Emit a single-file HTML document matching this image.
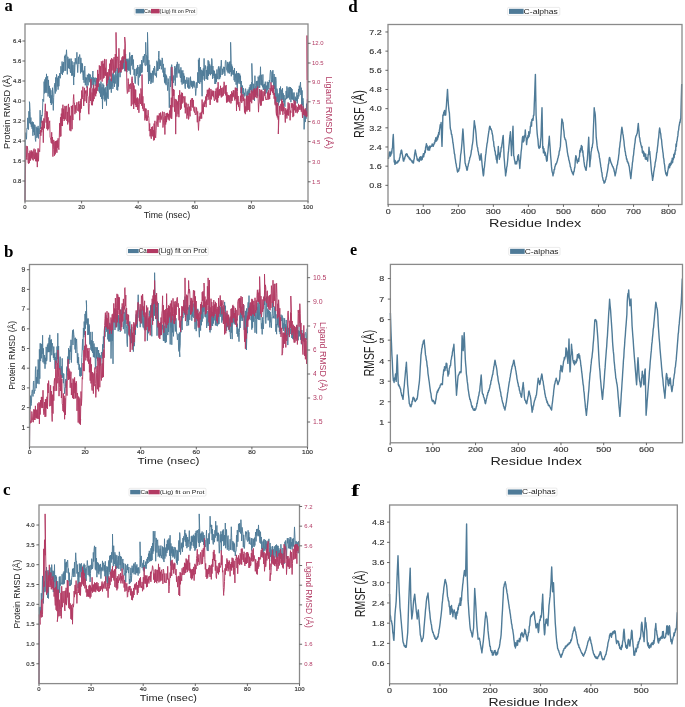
<!DOCTYPE html>
<html><head><meta charset="utf-8"><style>
html,body{margin:0;padding:0;background:#fff;width:685px;height:707px;overflow:hidden}
svg{display:block;filter:blur(0.3px)}
</style></head><body>
<svg width="685" height="707" viewBox="0 0 685 707">
<rect width="685" height="707" fill="#fff"/>
<polyline points="25.00,201.00 25.30,139.49 25.70,132.65 26.10,135.20 26.50,139.25 26.90,128.50 27.30,128.92 27.70,117.85 28.10,127.18 28.50,129.52 28.90,111.21 29.30,123.21 29.70,103.46 29.40,101.70 30.10,111.43 30.50,124.24 30.90,117.57 31.30,126.78 31.70,122.21 32.10,128.75 32.50,121.65 32.90,135.75 33.30,122.20 33.70,132.14 34.10,124.47 34.50,135.15 34.90,124.88 35.30,139.19 35.70,141.46 36.10,126.74 36.50,129.04 36.90,137.98 37.30,127.63 37.70,136.55 38.10,125.90 38.50,138.39 38.90,128.32 39.30,134.03 39.70,132.35 40.10,110.18 40.50,128.83 40.90,117.34 41.30,122.66 41.70,115.08 42.10,116.13 42.50,110.07 42.90,98.98 43.30,101.13 43.70,101.57 44.10,81.60 44.50,93.33 44.90,79.38 45.30,92.74 45.70,77.46 46.10,91.69 46.50,73.86 46.90,93.07 47.30,78.37 47.70,76.27 48.10,96.45 48.50,79.93 48.90,93.78 49.30,85.86 49.70,97.89 50.10,88.41 50.50,103.00 50.90,90.28 51.30,104.97 51.70,95.25 52.10,103.41 52.50,87.76 52.90,99.78 53.30,110.40 53.70,97.26 54.10,90.90 54.50,84.50 54.90,83.18 55.30,93.55 55.70,77.43 56.10,91.41 56.50,74.34 56.90,76.44 57.30,86.54 57.70,77.72 58.10,89.67 58.50,75.93 58.90,86.25 59.30,78.48 59.70,73.20 60.10,78.37 60.50,76.87 60.90,66.22 61.30,73.76 61.70,72.26 62.10,61.54 62.50,75.01 62.90,63.70 63.30,72.40 63.70,61.96 64.10,70.92 64.50,56.30 64.90,57.95 65.30,54.72 65.70,70.82 66.10,56.56 66.50,49.79 66.90,57.61 67.30,74.34 67.70,56.71 68.10,57.84 68.50,68.08 68.90,59.14 69.30,69.00 69.70,58.65 70.10,70.33 70.50,72.82 70.90,58.62 71.30,58.74 71.70,75.69 72.10,61.27 72.50,75.46 72.90,65.14 73.30,72.33 73.70,85.02 74.10,62.24 74.50,76.75 74.90,67.29 75.30,58.19 75.70,63.14 76.10,64.26 76.50,63.55 76.90,52.29 77.30,64.18 77.70,72.61 78.10,64.84 78.50,56.84 78.90,63.95 79.30,57.17 79.70,54.51 80.10,58.94 80.50,73.37 80.90,57.89 81.30,71.92 81.70,62.94 82.10,72.40 82.50,63.61 82.90,75.26 83.30,80.01 83.70,70.64 84.10,82.72 84.50,67.27 84.90,66.12 85.30,85.27 85.70,77.23 86.10,79.84 86.50,77.70 86.90,87.62 87.30,74.78 87.70,76.64 88.10,85.36 88.50,73.66 88.90,80.21 89.30,73.87 89.70,82.23 90.10,75.38 90.50,74.63 90.90,84.32 91.30,87.67 91.70,77.39 92.10,85.15 92.50,77.56 92.90,71.01 93.30,91.76 93.70,77.05 94.10,81.82 94.50,78.30 94.90,84.35 95.30,85.75 95.70,77.66 96.10,78.95 96.50,78.08 96.90,87.28 97.30,78.52 97.70,86.89 98.10,86.94 98.50,79.41 98.90,91.42 99.30,83.56 99.70,93.22 100.10,83.80 100.50,96.78 100.90,81.50 101.30,84.58 101.70,99.04 102.10,87.28 102.50,108.99 102.90,83.59 103.30,95.38 103.70,84.91 104.10,99.34 104.50,88.55 104.90,101.42 105.30,87.31 105.70,99.96 106.10,92.49 106.50,105.57 106.90,83.32 107.30,97.57 107.70,83.65 108.10,99.03 108.50,78.63 108.90,77.02 109.30,76.21 109.70,89.54 110.10,78.60 110.50,88.97 110.90,79.37 111.30,92.69 111.70,78.30 112.10,86.34 112.50,73.61 112.90,88.93 113.30,72.48 113.70,83.13 114.10,76.46 114.50,86.91 114.90,74.58 115.30,83.57 115.70,59.83 116.10,73.87 116.50,75.18 116.90,89.88 117.30,67.97 117.70,90.46 118.10,70.87 118.50,86.54 118.90,73.38 119.30,67.69 119.70,70.02 120.10,77.20 120.50,66.26 120.90,72.85 121.30,60.32 121.70,69.00 122.10,60.86 122.50,59.79 122.90,66.95 123.30,57.15 123.70,68.74 124.10,57.70 124.50,70.67 124.90,71.27 125.30,55.64 125.70,54.09 126.10,70.44 126.50,58.86 126.90,72.14 127.30,59.33 127.70,69.86 128.10,58.63 128.50,70.45 128.90,60.20 129.30,70.66 129.70,52.45 130.10,73.46 130.50,74.55 130.90,56.44 131.30,65.65 131.70,55.06 132.10,64.31 132.50,54.98 132.90,69.46 133.30,59.50 133.70,67.53 134.10,75.16 134.50,69.14 134.90,82.27 135.30,83.62 135.70,76.76 136.10,68.98 136.50,75.99 136.90,67.79 137.30,74.09 137.70,65.06 138.10,83.82 138.50,85.41 138.90,67.02 139.30,77.39 139.70,67.08 140.10,64.47 140.50,75.97 140.90,64.61 141.30,72.82 141.70,60.07 142.10,72.38 142.50,66.81 142.90,59.00 143.30,56.14 143.70,62.57 144.10,56.55 144.50,54.09 144.90,65.35 145.30,65.51 145.70,65.85 145.70,42.30 146.10,55.62 146.50,55.19 146.90,65.21 147.30,56.51 147.70,72.01 147.50,32.40 148.10,58.48 148.50,83.86 148.90,60.11 149.30,81.09 149.70,64.74 150.10,79.27 150.50,72.86 150.90,83.91 151.30,73.16 151.70,82.39 152.10,75.85 152.50,70.74 152.90,82.65 153.30,79.88 153.70,68.18 154.10,74.89 154.50,66.04 154.90,68.42 155.30,75.76 155.70,74.12 156.10,72.99 156.50,77.36 156.90,60.78 157.30,70.91 157.70,62.26 158.10,70.50 158.50,57.65 158.90,51.02 159.30,69.03 159.70,59.47 160.10,60.54 160.50,65.84 160.90,60.33 161.30,69.35 161.70,67.15 162.10,57.87 162.50,59.02 162.90,72.55 163.30,63.92 163.70,77.06 164.10,70.74 164.50,82.59 164.90,67.77 165.30,83.68 165.70,74.19 166.10,85.13 166.50,75.61 166.90,77.96 167.30,84.36 167.70,90.67 168.10,78.54 168.50,81.60 168.90,90.15 169.30,107.71 169.70,92.18 170.10,76.16 170.50,86.98 170.90,68.13 171.30,66.67 171.70,80.55 171.70,64.60 172.10,72.48 172.50,91.22 172.90,76.97 173.30,82.99 173.70,75.52 174.10,80.41 174.50,68.55 174.90,66.02 175.30,85.64 175.70,67.71 176.10,74.42 176.50,64.54 176.90,77.59 177.30,61.88 177.70,65.86 178.10,73.28 178.50,72.67 178.90,63.83 179.30,73.31 179.70,69.70 180.10,76.53 180.50,77.89 180.90,67.34 181.30,82.26 181.70,70.45 182.10,84.58 182.50,72.81 182.90,70.36 183.30,83.62 183.70,73.36 184.10,83.25 184.50,75.86 184.90,86.70 185.30,88.72 185.70,79.83 186.10,83.75 186.50,82.60 186.90,77.28 187.30,81.01 187.70,87.47 188.10,79.89 188.50,88.56 188.90,77.63 189.30,84.82 189.70,88.63 190.10,87.70 190.50,76.69 190.90,85.44 191.30,80.83 191.70,86.81 192.10,80.97 192.50,88.42 192.90,81.65 193.30,86.13 193.70,80.84 194.10,87.47 194.50,81.52 194.90,83.27 195.30,88.65 195.70,95.57 196.10,90.00 196.50,82.45 196.90,88.05 197.30,86.05 197.70,72.38 198.10,82.13 198.50,82.94 198.40,59.70 198.90,70.85 199.30,57.90 199.70,83.93 200.10,80.31 200.50,67.08 200.90,82.08 201.30,69.80 201.70,80.68 202.10,96.22 202.50,70.61 202.90,79.63 203.30,68.43 203.70,76.00 204.10,58.43 204.50,80.67 204.90,69.08 205.30,65.45 205.70,69.51 206.10,79.13 206.50,70.04 206.90,79.11 207.30,66.37 207.70,79.82 208.10,60.25 208.50,75.87 208.90,61.43 209.30,74.21 209.70,63.89 210.10,72.02 210.50,75.22 210.90,65.58 211.30,74.05 211.70,58.50 212.10,61.16 212.50,78.86 212.90,66.00 213.30,75.73 213.70,70.17 214.10,78.25 214.50,70.91 214.90,83.96 215.30,73.95 215.70,83.85 216.10,73.63 216.50,81.94 216.90,69.52 217.30,79.07 217.70,75.16 218.10,69.35 218.50,66.42 218.90,79.33 219.30,68.52 219.70,79.00 220.10,66.43 220.50,77.24 220.90,67.38 221.30,60.11 221.70,67.87 222.10,74.97 222.50,68.83 222.90,73.96 223.30,68.70 223.70,66.79 224.10,72.44 224.50,66.98 224.90,75.78 225.30,61.89 225.70,60.36 226.10,61.58 226.50,69.68 226.90,69.36 227.30,71.61 227.70,61.92 228.10,73.23 228.50,63.68 228.90,72.31 229.30,62.04 229.70,73.60 230.10,61.18 230.50,71.94 230.90,65.29 230.60,42.30 231.30,76.25 231.70,64.50 232.10,74.46 232.50,66.58 232.90,72.45 233.30,74.90 233.70,70.12 234.10,80.24 234.50,68.00 234.90,81.83 235.30,78.77 235.70,73.70 236.10,84.74 236.50,71.06 236.90,82.90 237.30,90.89 237.70,73.18 238.10,82.26 238.50,72.95 238.90,83.56 239.30,81.00 239.70,73.57 240.10,84.05 240.50,75.68 240.90,93.19 241.30,81.06 241.70,93.41 242.10,96.89 242.50,85.57 242.90,93.23 243.30,88.11 243.70,95.66 244.10,96.57 244.50,92.79 244.90,95.67 245.30,88.73 245.70,88.75 246.10,94.37 246.50,99.02 246.90,92.51 247.30,91.28 247.70,96.24 248.10,89.44 248.50,94.82 248.90,91.73 249.30,87.37 249.70,94.63 250.10,84.81 250.50,90.02 250.90,84.20 251.30,91.84 251.70,82.11 252.10,92.81 251.80,63.40 252.50,82.67 252.90,88.07 253.30,92.33 253.70,83.80 254.10,92.95 254.50,100.96 254.90,75.70 255.30,85.46 255.70,94.21 256.10,86.28 256.50,81.21 256.90,95.11 257.30,80.84 257.70,96.30 258.10,76.70 258.50,79.12 258.90,87.84 259.30,75.51 259.70,87.73 260.10,80.05 260.50,66.75 260.90,84.76 261.30,74.75 261.70,85.38 262.10,80.24 262.50,87.31 262.90,74.43 263.30,89.93 263.70,84.59 264.10,89.29 264.50,83.88 264.90,90.96 265.30,81.69 265.70,93.98 266.10,92.10 266.50,85.57 266.90,92.78 267.30,81.75 267.70,90.21 268.10,87.44 268.50,82.22 268.90,89.25 269.30,80.04 269.70,82.45 270.10,73.99 270.50,70.00 270.90,72.48 271.30,82.60 271.70,79.26 272.10,71.52 272.50,82.19 272.90,70.16 273.30,81.38 273.70,86.05 274.10,74.01 274.50,88.95 274.90,76.88 275.30,103.63 275.70,77.02 276.10,80.36 276.50,110.57 276.90,88.59 277.30,91.06 277.70,101.94 278.10,93.36 278.50,105.40 278.90,94.72 279.30,102.37 279.70,88.13 280.10,100.57 280.50,86.50 280.90,95.62 281.30,100.41 281.70,89.62 282.10,99.48 282.50,88.18 282.90,99.92 283.30,93.36 283.70,102.64 284.10,95.08 284.50,102.91 284.90,106.78 285.30,98.57 285.70,99.80 286.10,90.91 286.50,98.81 286.90,86.39 287.30,95.03 287.70,98.34 288.10,87.62 288.50,97.52 288.90,91.60 289.30,86.90 289.70,99.52 290.10,89.39 290.50,87.04 290.90,102.18 291.30,87.96 291.70,99.26 292.10,89.08 292.50,99.53 292.90,92.66 293.30,95.88 293.70,100.93 294.10,92.51 294.50,103.76 294.90,104.64 295.30,96.66 295.70,103.43 296.10,98.03 296.50,100.77 296.90,92.56 297.30,103.41 297.70,95.20 298.10,98.75 298.50,88.94 298.90,96.43 299.30,85.78 299.70,92.38 300.10,85.92 300.50,82.04 300.90,94.92 301.30,87.70 301.70,109.41 302.10,90.40 302.50,105.34 302.90,98.15 303.30,100.59 303.70,111.31 304.10,129.38 304.50,121.88 304.90,110.03 305.30,122.06 305.70,110.51 306.10,118.74 306.50,103.66 306.90,113.82 307.30,99.27" fill="none" stroke="#4f7b98" stroke-width="0.95" stroke-linejoin="round" opacity="1"/>
<polyline points="25.00,201.00 25.30,174.90 25.70,160.98 26.10,145.84 26.50,157.46 26.90,159.69 27.30,146.22 27.70,149.33 28.10,162.60 28.50,163.66 28.90,153.10 29.30,163.14 29.70,152.13 30.10,150.56 30.50,160.57 30.90,151.84 31.30,157.89 31.70,150.39 32.10,159.22 32.50,151.62 32.90,160.12 33.30,160.42 33.70,149.73 34.10,148.65 34.50,159.10 34.90,151.91 35.30,149.49 35.70,161.22 36.10,152.61 36.50,161.32 36.90,152.83 37.30,167.10 37.70,152.59 38.10,148.33 38.50,161.23 38.90,149.48 39.30,150.94 39.70,151.81 40.10,136.13 40.50,130.10 40.90,135.76 41.30,126.96 41.70,132.27 42.10,120.72 42.50,129.63 42.90,120.96 43.30,142.66 43.70,118.41 44.10,118.61 44.50,128.23 44.90,112.36 45.30,103.78 45.70,112.84 46.10,122.62 46.50,111.44 46.90,128.87 47.30,111.60 47.70,130.33 48.10,117.29 48.50,128.85 48.90,128.55 49.30,123.63 49.70,120.79 50.10,137.16 50.50,137.92 50.90,140.70 51.30,142.99 51.70,132.28 52.10,143.78 52.50,137.08 52.90,156.65 53.30,149.34 53.70,139.89 54.10,142.16 54.50,155.66 54.90,141.63 55.30,154.33 55.70,141.00 56.10,151.46 56.50,140.80 56.90,152.80 57.30,140.31 57.70,147.85 58.10,138.31 58.50,147.48 58.90,149.70 59.30,135.91 59.70,123.17 60.10,136.72 60.50,117.23 60.90,136.28 61.30,113.59 61.70,125.93 62.10,108.34 62.50,126.04 62.90,104.71 63.30,118.95 63.70,108.78 64.10,120.94 64.50,119.41 64.90,105.91 65.30,119.33 65.70,106.67 66.10,106.45 66.50,105.88 66.90,120.96 67.30,111.94 67.70,124.44 68.10,106.15 68.50,103.91 68.90,122.42 69.30,107.41 69.70,130.31 70.10,130.46 70.50,115.72 70.90,131.20 71.30,105.93 71.70,109.70 72.10,129.22 72.50,105.26 72.90,120.04 73.30,99.39 73.70,94.51 74.10,103.29 74.50,103.06 74.90,114.19 75.30,105.27 75.70,111.97 76.10,112.81 76.50,106.16 76.90,102.27 77.30,109.99 77.70,110.13 78.10,110.94 78.50,101.55 78.90,111.50 79.30,104.30 79.70,120.27 80.10,101.20 80.50,112.63 80.90,98.87 81.30,108.67 81.70,90.50 82.10,98.92 82.50,97.70 82.90,86.73 83.30,97.69 83.70,105.99 84.10,99.06 84.50,87.85 84.90,101.24 85.30,90.78 85.70,93.38 86.10,90.41 86.50,102.95 86.90,92.84 87.30,86.38 87.70,96.13 88.10,96.60 88.50,111.99 88.90,114.25 89.30,103.43 89.70,88.98 90.10,87.73 90.50,100.99 90.90,79.07 91.30,102.71 91.70,105.20 92.10,92.44 92.50,105.22 92.90,88.45 93.30,101.25 93.70,84.72 94.10,99.06 94.50,88.87 94.90,95.32 95.30,87.76 95.70,96.29 96.10,84.47 96.50,93.40 96.90,79.35 97.30,90.81 97.70,69.92 98.10,86.99 98.50,73.96 98.90,81.65 99.30,65.39 99.70,69.94 100.10,80.35 100.50,66.21 100.90,79.22 101.30,61.42 101.70,62.57 102.10,81.61 102.50,63.39 102.90,60.73 103.30,78.56 103.70,63.64 104.10,77.76 104.50,58.95 104.90,75.45 105.30,67.78 105.70,75.81 106.10,59.35 106.50,85.63 106.90,72.58 107.30,83.36 107.70,72.23 108.10,80.06 108.50,78.24 108.90,69.19 109.30,75.68 109.70,63.68 110.10,76.51 110.50,59.78 110.90,73.00 111.30,81.19 111.70,58.16 112.10,70.41 112.50,59.51 112.90,59.40 113.30,73.56 113.70,59.97 114.10,57.16 114.50,72.50 114.90,69.77 115.30,54.01 115.70,71.07 116.10,59.42 116.00,32.40 116.50,58.29 116.90,68.41 117.30,58.27 117.70,56.75 118.10,59.93 118.50,72.80 118.90,48.29 119.30,63.55 119.70,63.99 120.10,72.22 120.50,60.67 120.90,72.13 121.30,70.67 121.70,59.19 122.10,57.21 122.50,69.34 122.90,56.02 123.30,59.97 123.70,62.65 124.10,49.43 124.50,58.70 124.90,44.06 124.70,37.00 125.30,43.90 125.70,71.15 126.10,61.55 126.50,64.20 126.90,88.08 127.30,93.51 127.70,92.78 128.10,78.55 128.50,81.61 128.90,91.88 129.30,84.40 129.70,86.56 130.10,88.96 130.50,83.55 130.90,85.12 131.30,106.10 131.70,78.73 132.10,76.69 132.50,80.21 132.90,104.44 133.30,83.13 133.70,109.01 134.10,85.53 134.50,103.32 134.90,89.37 135.30,105.02 135.70,89.71 136.10,107.04 136.50,98.48 136.90,107.07 137.30,97.44 137.70,109.88 138.10,98.47 138.50,104.31 138.90,112.78 139.30,105.01 139.70,93.68 140.10,102.79 140.50,103.94 140.90,88.45 141.30,91.10 141.70,105.70 142.10,90.97 142.00,74.50 142.50,108.54 142.90,96.29 143.30,110.75 143.70,111.15 144.10,103.48 144.50,105.76 144.90,120.36 145.30,108.49 145.70,118.29 146.10,108.68 146.50,120.72 146.90,115.12 147.30,120.70 147.70,115.35 148.10,110.11 148.50,115.78 148.90,118.41 149.30,131.05 149.70,123.46 150.10,136.33 150.50,129.12 150.90,136.65 151.30,138.78 151.70,126.97 152.10,136.01 152.50,126.53 152.90,136.50 153.30,129.96 153.70,140.47 154.10,123.52 154.50,140.04 154.90,120.83 155.30,136.00 155.70,137.84 156.10,130.76 156.50,121.46 156.90,120.19 157.30,115.48 157.70,125.80 158.10,126.89 158.50,115.67 158.90,119.84 159.30,113.34 159.70,115.81 160.10,122.50 160.50,112.56 160.90,119.44 161.30,119.75 161.70,115.38 162.10,114.23 162.50,111.64 162.90,127.53 163.30,125.33 163.70,116.80 164.10,111.95 164.50,120.13 164.90,134.49 165.30,116.04 165.70,124.54 166.10,113.38 166.50,122.18 166.90,113.12 167.30,117.24 167.70,112.80 168.10,119.56 168.50,114.00 168.90,118.92 169.30,120.49 169.70,110.43 170.10,116.76 170.50,104.97 170.90,118.37 171.30,97.67 171.70,118.87 172.10,109.89 171.90,67.00 172.50,96.20 172.90,107.21 173.30,88.97 173.70,95.87 174.10,89.83 174.50,111.64 174.90,98.89 175.30,99.15 175.70,134.13 176.10,99.45 176.50,99.96 176.90,116.63 177.30,101.35 177.70,105.92 178.10,114.25 178.50,95.33 178.90,117.19 179.30,102.28 179.70,90.25 180.10,98.74 180.50,109.82 180.90,94.65 181.30,108.58 181.70,92.49 182.10,103.68 182.50,93.03 182.90,102.63 183.30,96.40 183.70,97.98 184.10,97.98 184.50,107.33 184.90,96.24 185.30,113.33 185.70,102.82 186.10,102.63 186.50,103.24 186.90,118.64 187.30,107.41 187.70,115.42 188.10,103.85 188.50,119.45 188.90,118.21 189.30,106.57 189.70,112.93 190.10,116.35 190.50,100.05 190.90,110.85 191.30,98.66 191.70,98.55 192.10,107.01 192.50,98.03 192.90,107.73 193.30,99.95 193.70,110.95 194.10,111.48 194.50,112.62 194.90,106.77 195.30,114.78 195.70,113.85 196.10,114.53 196.50,107.50 196.90,110.82 197.30,122.27 197.70,111.40 198.10,122.55 198.50,130.39 198.90,122.09 199.30,116.45 199.70,121.15 200.10,112.83 200.50,117.95 200.90,118.80 201.30,111.85 201.70,118.54 202.10,99.54 202.50,112.39 202.90,104.37 203.30,114.19 203.70,102.42 204.10,102.63 204.50,106.88 204.90,100.63 205.30,103.61 205.70,96.49 206.10,107.21 206.50,94.34 206.90,100.38 207.30,89.78 207.70,96.66 208.10,97.10 208.50,89.62 208.90,99.71 209.30,87.87 209.70,96.59 210.10,104.99 210.50,99.42 210.90,88.98 211.30,99.45 211.70,91.22 212.10,90.37 212.50,95.84 212.90,91.12 213.30,97.20 213.70,90.78 214.10,99.80 214.50,100.96 214.90,98.22 215.30,91.18 215.70,99.38 216.10,88.51 216.50,97.54 216.90,102.30 217.30,87.50 217.70,102.39 218.10,82.20 218.50,97.71 218.90,90.09 219.30,95.47 219.70,89.00 220.10,95.44 220.50,85.80 220.90,92.07 221.30,97.43 221.70,88.07 222.10,96.60 222.50,95.89 222.90,87.48 223.30,95.58 223.70,85.69 224.10,81.79 224.50,84.23 224.90,93.69 225.30,86.06 225.70,95.37 226.10,84.99 226.50,102.54 226.90,92.23 227.30,102.27 227.70,94.70 228.10,100.57 228.50,95.14 228.90,101.67 229.30,95.43 229.70,102.43 230.10,99.62 230.50,94.25 230.90,103.44 231.30,101.64 231.70,91.27 232.10,100.96 232.50,92.76 232.90,97.25 233.30,90.15 233.70,96.50 234.10,90.45 234.50,98.89 234.90,100.52 235.30,87.59 235.70,99.04 236.10,87.93 236.50,111.02 236.90,88.26 237.30,91.72 237.70,104.46 238.10,95.97 238.50,106.71 238.90,102.06 239.30,108.20 239.70,110.63 240.10,103.02 240.50,95.73 240.90,101.25 241.30,87.37 241.70,102.87 242.10,101.48 242.50,99.49 242.90,94.23 243.30,100.94 243.70,96.69 244.10,102.62 244.50,112.50 244.90,98.65 245.30,114.16 245.70,106.43 246.10,110.24 246.50,95.81 246.90,111.58 247.30,95.73 247.70,110.06 248.10,108.84 248.50,95.62 248.90,110.04 249.30,93.42 249.70,111.60 250.10,93.48 250.50,101.61 250.90,95.25 251.30,90.35 251.70,103.23 252.10,91.96 252.50,91.44 252.90,99.64 253.30,89.34 253.70,99.61 254.10,97.70 254.50,88.45 254.90,97.49 255.30,90.17 255.70,97.01 256.10,89.42 256.50,88.02 256.90,98.12 257.30,93.96 257.70,86.51 258.10,98.22 258.50,112.13 258.90,104.01 259.30,102.92 259.70,89.06 260.10,92.19 260.50,105.55 260.90,90.35 261.30,105.52 261.70,89.76 262.10,101.22 262.50,100.65 262.90,91.26 263.30,100.74 263.70,97.13 264.10,91.54 264.50,95.63 264.90,89.22 265.30,96.13 265.70,99.06 266.10,100.00 266.50,98.96 266.90,99.92 267.30,95.79 267.70,92.31 268.10,99.67 268.50,90.35 268.90,99.22 269.30,93.46 269.70,99.07 270.10,88.17 270.50,94.75 270.90,82.39 271.30,84.67 271.70,91.24 272.10,85.18 272.50,92.80 272.90,87.90 273.30,94.71 273.70,85.51 274.10,98.72 274.50,92.96 274.90,103.79 275.30,105.29 275.70,96.71 276.10,112.09 276.50,115.47 276.90,102.19 277.30,117.46 277.70,103.06 278.10,119.53 278.50,116.33 278.30,134.00 278.90,117.21 279.30,105.87 279.70,111.78 280.10,114.65 280.50,106.11 280.90,103.82 281.30,110.80 281.70,99.36 282.10,111.35 282.50,100.87 282.90,114.83 283.30,103.32 283.70,111.18 284.10,107.08 284.50,113.83 284.90,114.59 285.30,122.54 285.70,108.29 286.10,115.61 286.50,110.41 286.90,118.56 287.30,108.91 287.70,115.12 288.10,102.41 288.50,115.54 288.90,105.14 289.30,103.44 289.70,110.80 290.10,120.30 290.50,110.67 290.90,112.70 291.30,103.16 291.70,107.57 292.10,107.89 292.50,103.37 292.90,117.14 293.30,104.43 293.70,116.11 294.10,100.26 294.50,110.28 294.90,104.41 295.30,101.49 295.70,112.67 296.10,105.59 296.50,111.45 296.90,111.95 297.30,113.21 297.70,106.88 298.10,111.78 298.50,103.88 298.90,109.83 299.30,109.47 299.70,105.28 300.10,109.76 300.50,104.60 300.90,105.07 301.30,111.70 301.70,104.42 302.10,110.71 302.50,117.87 302.90,106.26 303.30,108.43 303.70,114.91 304.10,109.36 304.50,111.18 304.90,116.23 305.30,108.32 305.70,115.12 306.10,110.68 306.50,117.14 306.90,114.49 306.60,112.00 307.30,116.26 307.00,35.50 307.20,80.00" fill="none" stroke="#b23a63" stroke-width="0.95" stroke-linejoin="round" opacity="1"/>
<rect x="25" y="24" width="283" height="177" fill="none" stroke="#8a8a8a" stroke-width="1.3"/>
<line x1="22.4" y1="181" x2="25" y2="181" stroke="#555" stroke-width="0.9"/>
<text x="21.2" y="183.02" font-size="5.6" fill="#333" text-anchor="end" font-family="'Liberation Sans', sans-serif" textLength="8.29" lengthAdjust="spacingAndGlyphs" stroke="#333" stroke-width="0.15">0.8</text>
<line x1="22.4" y1="161" x2="25" y2="161" stroke="#555" stroke-width="0.9"/>
<text x="21.2" y="163.02" font-size="5.6" fill="#333" text-anchor="end" font-family="'Liberation Sans', sans-serif" textLength="8.29" lengthAdjust="spacingAndGlyphs" stroke="#333" stroke-width="0.15">1.6</text>
<line x1="22.4" y1="141" x2="25" y2="141" stroke="#555" stroke-width="0.9"/>
<text x="21.2" y="143.02" font-size="5.6" fill="#333" text-anchor="end" font-family="'Liberation Sans', sans-serif" textLength="8.29" lengthAdjust="spacingAndGlyphs" stroke="#333" stroke-width="0.15">2.4</text>
<line x1="22.4" y1="121" x2="25" y2="121" stroke="#555" stroke-width="0.9"/>
<text x="21.2" y="123.02" font-size="5.6" fill="#333" text-anchor="end" font-family="'Liberation Sans', sans-serif" textLength="8.29" lengthAdjust="spacingAndGlyphs" stroke="#333" stroke-width="0.15">3.2</text>
<line x1="22.4" y1="101" x2="25" y2="101" stroke="#555" stroke-width="0.9"/>
<text x="21.2" y="103.02" font-size="5.6" fill="#333" text-anchor="end" font-family="'Liberation Sans', sans-serif" textLength="8.29" lengthAdjust="spacingAndGlyphs" stroke="#333" stroke-width="0.15">4.0</text>
<line x1="22.4" y1="81" x2="25" y2="81" stroke="#555" stroke-width="0.9"/>
<text x="21.2" y="83.02" font-size="5.6" fill="#333" text-anchor="end" font-family="'Liberation Sans', sans-serif" textLength="8.29" lengthAdjust="spacingAndGlyphs" stroke="#333" stroke-width="0.15">4.8</text>
<line x1="22.4" y1="61" x2="25" y2="61" stroke="#555" stroke-width="0.9"/>
<text x="21.2" y="63.02" font-size="5.6" fill="#333" text-anchor="end" font-family="'Liberation Sans', sans-serif" textLength="8.29" lengthAdjust="spacingAndGlyphs" stroke="#333" stroke-width="0.15">5.6</text>
<line x1="22.4" y1="41" x2="25" y2="41" stroke="#555" stroke-width="0.9"/>
<text x="21.2" y="43.02" font-size="5.6" fill="#333" text-anchor="end" font-family="'Liberation Sans', sans-serif" textLength="8.29" lengthAdjust="spacingAndGlyphs" stroke="#333" stroke-width="0.15">6.4</text>
<line x1="308" y1="181.8" x2="310.6" y2="181.8" stroke="#555" stroke-width="0.9"/>
<text x="312" y="183.82" font-size="5.6" fill="#b23a63" text-anchor="start" font-family="'Liberation Sans', sans-serif" textLength="8.29" lengthAdjust="spacingAndGlyphs" >1.5</text>
<line x1="308" y1="161.8" x2="310.6" y2="161.8" stroke="#555" stroke-width="0.9"/>
<text x="312" y="163.82" font-size="5.6" fill="#b23a63" text-anchor="start" font-family="'Liberation Sans', sans-serif" textLength="8.29" lengthAdjust="spacingAndGlyphs" >3.0</text>
<line x1="308" y1="141.6" x2="310.6" y2="141.6" stroke="#555" stroke-width="0.9"/>
<text x="312" y="143.62" font-size="5.6" fill="#b23a63" text-anchor="start" font-family="'Liberation Sans', sans-serif" textLength="8.29" lengthAdjust="spacingAndGlyphs" >4.5</text>
<line x1="308" y1="121.6" x2="310.6" y2="121.6" stroke="#555" stroke-width="0.9"/>
<text x="312" y="123.62" font-size="5.6" fill="#b23a63" text-anchor="start" font-family="'Liberation Sans', sans-serif" textLength="8.29" lengthAdjust="spacingAndGlyphs" >6.0</text>
<line x1="308" y1="101.8" x2="310.6" y2="101.8" stroke="#555" stroke-width="0.9"/>
<text x="312" y="103.82" font-size="5.6" fill="#b23a63" text-anchor="start" font-family="'Liberation Sans', sans-serif" textLength="8.29" lengthAdjust="spacingAndGlyphs" >7.5</text>
<line x1="308" y1="81.8" x2="310.6" y2="81.8" stroke="#555" stroke-width="0.9"/>
<text x="312" y="83.82" font-size="5.6" fill="#b23a63" text-anchor="start" font-family="'Liberation Sans', sans-serif" textLength="8.29" lengthAdjust="spacingAndGlyphs" >9.0</text>
<line x1="308" y1="63" x2="310.6" y2="63" stroke="#555" stroke-width="0.9"/>
<text x="312" y="65.02" font-size="5.6" fill="#b23a63" text-anchor="start" font-family="'Liberation Sans', sans-serif" textLength="11.61" lengthAdjust="spacingAndGlyphs" >10.5</text>
<line x1="308" y1="43.3" x2="310.6" y2="43.3" stroke="#555" stroke-width="0.9"/>
<text x="312" y="45.32" font-size="5.6" fill="#b23a63" text-anchor="start" font-family="'Liberation Sans', sans-serif" textLength="11.61" lengthAdjust="spacingAndGlyphs" >12.0</text>
<line x1="25" y1="201" x2="25" y2="203.4" stroke="#555" stroke-width="0.9"/>
<text x="25" y="209" font-size="5.6" fill="#333" text-anchor="middle" font-family="'Liberation Sans', sans-serif" textLength="3.32" lengthAdjust="spacingAndGlyphs" stroke="#333" stroke-width="0.15">0</text>
<line x1="81.6" y1="201" x2="81.6" y2="203.4" stroke="#555" stroke-width="0.9"/>
<text x="81.6" y="209" font-size="5.6" fill="#333" text-anchor="middle" font-family="'Liberation Sans', sans-serif" textLength="6.63" lengthAdjust="spacingAndGlyphs" stroke="#333" stroke-width="0.15">20</text>
<line x1="138.2" y1="201" x2="138.2" y2="203.4" stroke="#555" stroke-width="0.9"/>
<text x="138.2" y="209" font-size="5.6" fill="#333" text-anchor="middle" font-family="'Liberation Sans', sans-serif" textLength="6.63" lengthAdjust="spacingAndGlyphs" stroke="#333" stroke-width="0.15">40</text>
<line x1="194.8" y1="201" x2="194.8" y2="203.4" stroke="#555" stroke-width="0.9"/>
<text x="194.8" y="209" font-size="5.6" fill="#333" text-anchor="middle" font-family="'Liberation Sans', sans-serif" textLength="6.63" lengthAdjust="spacingAndGlyphs" stroke="#333" stroke-width="0.15">60</text>
<line x1="251.4" y1="201" x2="251.4" y2="203.4" stroke="#555" stroke-width="0.9"/>
<text x="251.4" y="209" font-size="5.6" fill="#333" text-anchor="middle" font-family="'Liberation Sans', sans-serif" textLength="6.63" lengthAdjust="spacingAndGlyphs" stroke="#333" stroke-width="0.15">80</text>
<line x1="308" y1="201" x2="308" y2="203.4" stroke="#555" stroke-width="0.9"/>
<text x="308" y="209" font-size="5.6" fill="#333" text-anchor="middle" font-family="'Liberation Sans', sans-serif" textLength="9.95" lengthAdjust="spacingAndGlyphs" stroke="#333" stroke-width="0.15">100</text>
<text x="10.2" y="112" font-size="8.4" fill="#222" text-anchor="middle" font-family="'Liberation Sans', sans-serif" textLength="74" lengthAdjust="spacingAndGlyphs" transform="rotate(-90 10.2 112)" >Protein RMSD (Å)</text>
<text x="326.2" y="112.7" font-size="9.0" fill="#b23a63" text-anchor="middle" font-family="'Liberation Sans', sans-serif" textLength="72.6" lengthAdjust="spacingAndGlyphs" transform="rotate(90 326.2 112.7)" >Ligand RMSD (Å)</text>
<text x="143.7" y="218.2" font-size="8.8" fill="#222" text-anchor="start" font-family="'Liberation Sans', sans-serif" textLength="46.4" lengthAdjust="spacingAndGlyphs" >Time (nsec)</text>
<rect x="134.3" y="7.6" width="62.5" height="7.4" fill="#fff" stroke="#ddd" stroke-width="0.6" rx="1"/>
<rect x="135.6" y="8.9" width="8.7" height="4.5" fill="#4f7b98"/>
<rect x="151" y="8.9" width="8.6" height="4.5" fill="#b23a63"/>
<text x="144.3" y="13.2" font-size="5.2" fill="#222" text-anchor="start" font-family="'Liberation Sans', sans-serif" textLength="6.4" lengthAdjust="spacingAndGlyphs" >Ca</text>
<text x="159.6" y="13.2" font-size="5.2" fill="#222" text-anchor="start" font-family="'Liberation Sans', sans-serif" textLength="35.8" lengthAdjust="spacingAndGlyphs" >(Lig) fit on Prot</text>
<text x="4.6" y="10.6" font-size="16.5" fill="#000" text-anchor="start" font-family="'Liberation Serif', serif" font-weight="bold" >a</text>
<polyline points="29.50,447.00 29.80,396.47 30.20,408.90 30.60,395.64 31.00,405.67 31.40,403.60 31.80,393.38 32.20,389.89 32.60,390.15 33.00,396.45 33.40,382.51 33.80,380.98 34.20,393.68 34.60,390.26 35.00,390.92 35.40,370.06 35.80,366.56 36.20,388.20 36.60,377.15 37.00,383.91 37.40,369.67 37.80,383.07 38.20,359.49 38.60,372.23 39.00,384.16 39.40,349.35 39.80,378.73 40.20,343.26 40.60,361.08 41.00,343.80 41.40,358.30 41.80,344.15 42.20,353.90 42.60,335.25 43.00,362.28 43.40,348.32 43.80,359.26 44.20,363.70 44.60,355.11 45.00,368.70 45.40,357.74 45.80,364.22 46.20,346.87 46.60,361.17 47.00,359.51 47.40,344.65 47.80,352.25 48.20,343.20 48.60,352.04 49.00,337.66 49.40,352.10 49.80,334.86 50.20,361.82 50.60,339.87 51.00,351.31 51.40,339.42 51.80,355.22 52.20,343.04 52.60,345.70 53.00,349.90 53.40,357.94 53.80,346.57 54.20,359.99 54.60,353.41 55.00,368.85 55.40,357.16 55.80,364.96 56.20,352.71 56.60,363.14 57.00,346.51 57.40,359.07 57.80,333.21 58.20,362.99 58.60,346.02 59.00,362.67 59.40,369.39 59.80,364.35 60.20,356.73 60.60,375.45 61.00,373.90 61.40,366.34 61.80,377.98 62.20,358.35 62.60,377.49 63.00,373.13 63.40,383.17 63.80,373.81 64.20,386.64 64.60,393.74 65.00,388.59 65.40,388.12 65.80,379.09 66.20,386.20 66.60,367.88 67.00,366.48 67.40,371.26 67.80,356.54 68.20,363.94 68.60,348.16 69.00,363.87 69.40,349.83 69.80,359.89 70.20,345.82 70.60,351.63 71.00,339.80 71.40,362.50 71.80,347.16 72.20,337.16 72.60,330.30 73.00,345.00 73.40,329.54 73.80,334.45 74.20,337.64 74.60,338.05 75.00,349.38 75.40,337.73 75.80,352.99 76.20,343.70 76.60,338.92 77.00,349.31 77.40,362.90 77.80,353.32 78.20,364.73 78.60,357.18 79.00,369.78 79.40,364.51 79.80,376.16 80.20,367.63 80.60,376.47 81.00,367.83 81.40,375.76 81.80,357.33 82.20,349.30 82.60,339.24 83.00,350.16 83.40,327.92 83.80,337.25 84.20,321.54 84.60,334.81 85.00,313.92 85.40,328.70 85.80,311.20 86.20,323.20 86.60,305.71 86.30,300.50 87.00,324.67 87.40,318.70 87.80,335.03 88.20,318.49 88.60,334.61 89.00,324.39 89.40,325.68 89.80,344.41 90.20,331.92 90.60,346.57 91.00,349.85 91.40,340.27 91.80,351.18 92.20,331.86 92.60,352.96 93.00,341.04 93.40,357.13 93.80,343.72 94.20,343.60 94.60,357.50 95.00,346.95 95.40,368.39 95.80,368.37 96.20,347.21 96.60,358.43 97.00,349.34 97.40,347.31 97.80,360.81 98.20,358.93 98.60,350.00 99.00,365.58 99.40,353.37 99.80,363.41 100.20,355.22 100.60,365.53 101.00,362.87 101.40,352.21 101.80,353.70 102.20,358.43 102.60,344.33 103.00,355.77 103.40,336.43 103.80,347.97 104.20,330.96 104.60,326.74 105.00,336.79 105.40,330.30 105.80,314.95 106.20,316.23 106.60,331.68 107.00,324.86 107.40,327.52 107.80,339.43 108.20,326.65 108.60,341.36 109.00,328.32 109.40,341.46 109.80,322.88 110.20,341.46 110.60,326.82 111.00,358.53 111.40,342.04 111.80,319.75 112.20,340.89 112.60,328.93 113.00,363.87 113.40,320.61 113.80,322.28 114.20,315.35 114.60,315.52 115.00,329.97 115.40,308.94 115.80,327.46 116.20,314.22 116.60,326.50 117.00,326.68 117.40,311.00 117.80,318.58 118.20,331.28 118.60,315.14 119.00,317.66 119.40,329.79 119.80,317.82 120.20,331.85 120.60,324.00 121.00,310.02 121.40,324.94 121.80,308.23 122.20,307.12 122.60,306.56 123.00,318.88 123.40,329.11 123.80,321.52 124.20,312.21 124.60,325.06 125.00,333.56 125.40,324.09 125.80,309.57 126.20,324.29 126.60,328.89 127.00,343.18 127.40,346.72 127.80,320.93 128.20,333.43 128.60,333.50 129.00,322.45 129.40,336.42 129.80,321.45 130.20,329.50 130.60,343.79 131.00,328.98 131.40,342.85 131.80,326.80 132.20,342.76 132.60,346.23 133.00,335.15 133.40,351.61 133.80,335.43 134.20,346.20 134.60,342.67 135.00,325.89 135.40,334.71 135.80,318.06 136.20,314.33 136.60,326.43 137.00,312.43 137.40,327.79 137.80,305.18 138.20,294.74 138.60,306.21 139.00,317.75 139.40,310.17 139.80,310.06 140.20,327.19 140.60,310.58 141.00,320.23 141.40,309.49 141.80,323.32 142.20,305.42 142.60,323.95 143.00,327.45 143.40,327.54 143.80,309.88 144.20,328.95 144.60,330.23 145.00,316.80 145.40,329.29 145.80,316.60 146.20,323.83 146.60,314.44 147.00,317.98 147.40,340.68 147.80,326.82 148.20,318.67 148.60,333.28 149.00,330.86 149.40,313.27 149.80,310.64 150.20,327.56 150.60,305.30 151.00,324.15 151.40,324.69 151.80,336.30 152.20,303.10 152.60,319.05 153.00,301.52 153.40,320.99 153.80,291.65 154.20,300.28 154.60,315.75 154.60,272.70 155.00,300.82 155.40,312.60 155.80,302.17 156.20,318.67 156.60,307.13 157.00,335.68 157.40,309.95 157.80,327.57 158.20,303.00 158.60,335.54 159.00,336.67 159.40,337.01 159.80,326.88 160.20,335.44 160.60,325.50 161.00,321.82 161.40,334.69 161.80,327.34 162.20,329.41 162.60,324.57 163.00,333.92 163.40,340.89 163.80,322.59 164.20,341.04 164.60,325.82 165.00,342.00 165.40,342.96 165.80,319.34 166.20,342.16 166.60,334.19 167.00,314.72 167.40,312.84 167.80,335.09 168.20,311.16 168.60,331.91 169.00,307.01 169.40,311.21 169.80,325.99 170.20,344.41 170.60,312.41 171.00,327.54 171.40,317.11 171.80,344.76 172.20,313.95 172.60,332.40 173.00,318.67 173.40,336.40 173.80,330.83 174.20,321.33 174.60,309.48 175.00,321.71 175.40,331.52 175.80,318.07 176.20,319.12 176.60,333.66 177.00,333.28 177.40,339.75 177.80,337.17 178.20,333.86 178.60,349.04 179.00,351.53 179.40,332.50 179.80,356.89 179.50,351.30 180.20,345.12 180.60,325.34 181.00,332.35 181.40,319.02 181.80,326.47 182.20,329.87 182.60,312.34 183.00,318.12 183.40,308.14 183.80,305.02 184.20,310.71 184.60,314.60 185.00,296.57 185.40,317.01 185.80,305.24 186.20,308.64 186.60,311.43 187.00,326.05 187.40,314.29 187.80,321.70 188.20,307.29 188.60,325.36 189.00,312.48 189.40,305.20 189.80,319.87 190.20,305.93 190.60,300.86 191.00,307.68 191.40,306.77 191.80,320.75 192.20,308.39 192.60,316.50 193.00,303.83 193.40,317.70 193.80,316.90 194.20,302.70 194.60,313.69 195.00,329.20 195.40,317.10 195.80,309.41 196.20,331.15 196.60,318.73 197.00,310.53 197.40,320.19 197.80,308.83 198.20,325.73 198.60,320.09 199.00,332.13 199.40,337.21 199.80,317.81 200.20,319.36 200.60,330.59 201.00,313.79 201.40,325.25 201.80,305.44 202.20,321.66 202.60,305.28 203.00,318.51 203.40,304.45 203.80,311.70 204.20,309.38 204.60,300.52 205.00,316.73 205.40,305.25 205.80,317.28 206.20,309.70 206.60,327.97 207.00,324.70 207.40,323.67 207.80,310.87 208.20,325.94 208.60,314.75 209.00,305.63 209.40,312.02 209.80,332.17 210.20,332.53 210.60,321.03 211.00,330.07 211.40,311.28 211.80,325.69 212.20,312.00 212.60,325.98 213.00,313.38 213.40,323.50 213.80,308.72 214.20,320.42 214.60,309.79 215.00,311.56 215.40,325.43 215.80,314.16 216.20,314.44 216.60,325.62 217.00,324.98 217.40,326.18 217.80,315.69 218.20,324.41 218.60,308.19 219.00,323.90 219.40,305.90 219.80,308.29 220.20,316.78 220.60,307.19 221.00,315.08 221.40,302.76 221.80,322.61 222.20,306.50 222.60,320.37 223.00,307.80 223.40,310.51 223.80,323.26 224.20,311.47 224.60,301.93 225.00,308.95 225.40,305.75 225.80,323.64 226.20,313.43 226.60,330.80 227.00,313.40 227.40,315.79 227.80,327.28 228.20,318.39 228.60,329.54 229.00,317.62 229.40,331.68 229.80,318.76 230.20,334.47 230.60,338.89 231.00,321.75 231.40,332.68 231.80,315.49 232.20,339.11 232.60,312.26 233.00,306.10 233.40,322.60 233.80,310.64 234.20,324.35 234.60,313.30 235.00,323.25 235.40,323.80 235.80,315.89 236.20,321.32 236.60,319.21 237.00,333.88 237.40,323.71 237.80,336.63 238.20,328.71 238.60,335.98 239.00,341.65 239.40,332.66 239.80,315.39 240.20,327.98 240.60,306.52 241.00,320.96 241.40,306.89 241.80,318.41 242.20,311.28 242.60,320.81 243.00,310.29 243.40,314.28 243.80,305.26 244.20,329.91 244.60,315.56 245.00,329.72 245.40,310.86 245.80,331.67 246.20,317.15 246.60,308.45 246.40,350.00 247.00,330.55 247.40,333.16 247.80,305.81 248.20,302.31 248.60,313.09 249.00,295.61 249.40,316.41 249.80,305.70 250.20,315.22 250.60,308.26 251.00,320.18 251.40,316.02 251.80,329.57 252.20,310.61 252.60,327.71 253.00,305.42 253.40,321.72 253.80,304.88 254.20,316.66 254.60,318.86 255.00,332.74 255.40,319.64 255.80,310.48 256.20,318.33 256.60,333.59 257.00,306.81 257.40,319.15 257.80,302.63 258.20,304.95 258.60,319.76 259.00,299.45 259.40,311.95 259.80,320.05 260.20,304.23 260.60,313.84 261.00,317.37 261.40,328.68 261.80,323.33 262.20,334.39 262.60,317.32 263.00,328.25 263.40,329.04 263.80,319.42 264.20,296.61 264.60,304.97 265.00,298.02 265.40,312.97 265.80,323.56 266.20,311.22 266.60,296.69 267.00,317.30 267.40,314.86 267.80,308.68 268.20,320.42 268.60,309.93 269.00,312.26 269.40,310.97 269.80,327.35 270.20,311.92 270.60,322.48 271.00,323.38 271.40,327.89 271.80,316.59 272.20,313.45 272.60,301.57 273.00,318.34 273.40,316.07 273.80,318.06 274.20,306.39 274.60,310.51 275.00,318.63 275.40,307.28 275.80,331.68 276.20,324.01 276.60,334.19 277.00,314.31 277.40,325.21 277.80,316.20 278.20,327.48 278.60,318.98 279.00,311.23 279.40,331.83 279.80,320.14 280.20,334.12 280.60,324.98 281.00,314.63 281.40,319.43 281.80,321.03 282.20,315.53 282.60,328.63 283.00,317.81 283.40,330.95 283.80,323.34 284.20,328.56 284.60,318.27 285.00,339.82 285.40,324.33 285.80,334.30 286.20,319.98 286.60,337.11 287.00,326.22 287.40,336.28 287.80,345.06 288.20,337.11 288.60,327.83 289.00,335.04 289.40,324.36 289.80,326.49 290.20,334.05 290.60,328.34 291.00,321.25 291.40,327.20 291.80,337.97 292.20,332.42 292.60,338.74 293.00,331.23 293.40,339.50 293.80,328.18 294.20,328.01 294.60,327.34 295.00,328.99 295.40,329.67 295.80,338.63 296.20,328.50 296.60,328.27 297.00,324.77 297.40,333.67 297.80,326.91 298.20,340.30 298.60,330.38 299.00,336.63 299.40,331.24 299.80,336.05 300.20,320.47 300.60,339.74 301.00,330.05 301.40,344.23 301.80,329.99 302.20,340.86 302.60,333.49 303.00,335.68 303.40,341.37 303.80,334.03 304.20,336.21 304.60,342.04 305.00,332.96 305.40,332.43 305.80,333.42 306.20,337.88 306.60,339.82 307.00,328.63" fill="none" stroke="#4f7b98" stroke-width="0.95" stroke-linejoin="round" opacity="1"/>
<polyline points="29.50,447.00 29.80,409.18 30.20,423.37 30.60,420.71 31.00,422.80 31.40,422.26 31.80,411.51 32.20,413.75 32.60,420.65 33.00,422.14 33.40,422.10 33.80,409.25 34.20,419.94 34.60,409.78 35.00,419.94 35.40,405.86 35.80,417.82 36.20,410.11 36.60,418.30 37.00,409.47 37.40,418.52 37.80,403.46 38.20,418.95 38.60,417.20 39.00,402.17 39.40,423.91 39.80,403.38 40.20,414.54 40.60,400.12 41.00,406.62 41.40,396.90 41.80,408.09 42.20,397.01 42.60,407.80 43.00,390.22 43.40,408.75 43.80,414.66 44.20,413.78 44.60,402.06 45.00,416.92 45.40,399.29 45.80,416.64 46.20,398.98 46.60,407.86 47.00,396.80 47.40,408.93 47.80,383.42 48.20,392.99 48.60,380.64 49.00,386.38 49.40,406.07 49.80,406.11 50.20,405.88 50.60,385.25 51.00,405.78 51.40,391.05 51.80,413.26 52.20,421.49 52.60,394.66 53.00,413.64 53.40,386.34 53.80,400.70 54.20,381.78 54.60,378.37 55.00,391.07 55.40,381.01 55.80,360.62 56.20,369.54 56.60,390.74 57.00,365.10 57.40,362.97 57.80,383.25 58.20,363.79 57.90,350.00 58.60,377.32 59.00,396.16 59.40,387.57 59.80,368.16 60.20,372.61 60.60,391.03 61.00,374.92 61.40,398.02 61.80,379.01 62.20,403.40 62.60,405.13 63.00,411.01 63.40,393.43 63.80,412.23 64.20,395.80 64.60,419.28 65.00,398.20 65.40,414.93 65.80,398.87 66.20,380.60 66.60,388.80 67.00,395.61 67.40,376.98 67.80,367.38 68.20,359.23 68.60,379.86 69.00,368.59 69.40,379.13 69.80,370.72 70.20,387.77 70.60,376.38 71.00,371.80 71.40,395.03 71.80,382.93 72.20,393.25 72.60,397.90 73.00,378.59 73.40,398.92 73.80,379.77 74.20,393.17 74.60,377.34 75.00,398.75 75.40,382.79 75.80,398.01 76.20,381.17 76.60,383.79 77.00,410.90 77.40,392.97 77.80,396.85 78.20,422.58 78.60,396.65 79.00,396.92 79.40,423.66 79.80,398.41 80.20,423.15 80.60,419.12 80.40,424.80 81.00,391.48 81.40,405.58 81.80,398.43 82.20,377.56 82.60,379.20 83.00,363.04 83.40,370.71 83.80,350.07 84.20,371.15 84.60,345.80 85.00,356.56 85.40,331.17 85.80,360.42 86.20,344.56 86.60,345.09 87.00,357.82 87.40,348.33 87.80,361.45 88.20,351.09 88.60,363.73 89.00,347.96 89.40,372.29 89.80,359.56 90.20,380.68 90.60,357.51 91.00,383.42 91.40,364.35 91.80,387.67 92.20,390.59 92.60,372.17 93.00,376.99 93.40,393.62 93.80,373.41 94.20,386.12 94.60,370.74 95.00,367.46 95.40,383.73 95.80,397.40 96.20,389.74 96.60,372.34 97.00,366.03 97.40,389.32 97.80,357.38 98.20,363.80 98.60,391.33 99.00,362.42 99.40,357.87 99.80,387.27 100.20,361.80 100.60,357.95 101.00,377.45 101.40,380.50 101.80,365.78 102.20,363.45 102.60,377.70 103.00,352.49 103.40,377.01 103.80,349.63 104.20,357.79 104.60,325.57 105.00,318.35 105.40,312.67 105.80,327.08 106.20,317.83 106.60,327.29 107.00,311.21 107.40,329.47 107.80,318.17 108.20,329.00 108.60,312.74 109.00,318.61 109.40,333.88 109.80,324.91 110.20,324.47 110.60,330.43 111.00,317.53 111.40,333.63 111.80,328.46 112.20,314.39 112.60,330.06 113.00,313.75 113.40,321.59 113.80,303.38 114.20,322.50 114.60,308.47 115.00,318.60 115.40,298.05 115.80,314.96 116.20,327.28 116.60,307.23 117.00,293.83 117.40,322.32 117.80,294.55 118.20,309.90 118.60,296.88 119.00,314.38 119.40,297.39 119.80,323.33 120.20,312.29 120.60,309.52 121.00,330.62 121.40,314.12 121.80,327.05 122.20,303.39 122.60,321.46 123.00,320.62 123.40,298.89 123.80,313.53 124.20,305.96 124.60,309.37 125.00,287.63 124.70,288.20 125.40,306.09 125.80,295.05 126.20,319.71 126.60,307.99 127.00,323.93 127.40,321.44 127.80,314.09 128.20,325.78 128.60,315.08 129.00,335.25 129.40,325.58 129.80,335.91 130.20,352.01 130.60,338.99 131.00,338.20 131.40,332.06 131.80,324.37 132.20,349.75 132.60,332.79 133.00,345.96 133.40,331.94 133.80,322.13 134.20,342.14 134.60,324.70 135.00,323.39 135.40,329.98 135.80,316.92 136.20,310.40 136.60,324.57 137.00,321.73 137.40,314.33 137.80,302.54 138.20,302.22 138.60,304.28 139.00,312.48 139.40,321.31 139.80,310.17 140.20,304.14 140.60,311.58 141.00,323.42 141.40,295.68 141.80,299.26 142.20,310.53 142.60,294.15 143.00,301.19 143.40,314.77 143.80,306.35 144.20,317.09 144.60,300.81 145.00,341.32 145.40,326.67 145.80,312.53 146.20,330.12 146.60,305.48 147.00,327.03 147.40,310.23 147.80,307.46 148.20,315.34 148.60,331.68 149.00,317.74 149.40,330.57 149.80,316.50 150.20,335.34 150.60,314.85 151.00,311.35 151.40,304.77 151.80,317.60 152.20,298.74 152.60,324.71 153.00,295.52 153.40,304.37 153.80,289.74 154.20,300.41 154.60,301.35 154.60,280.50 155.00,304.03 155.40,295.07 155.80,319.11 156.20,307.45 156.60,293.07 157.00,305.45 157.40,301.70 157.80,327.23 158.20,327.02 158.60,321.22 159.00,337.74 159.40,323.02 159.80,339.02 160.20,322.74 160.60,335.00 161.00,317.51 161.40,335.07 161.80,313.88 162.20,310.38 162.60,295.80 163.00,323.64 163.40,305.21 163.80,332.69 164.20,310.21 164.60,322.35 165.00,310.25 165.40,323.77 165.80,309.13 166.20,328.09 166.60,293.62 167.00,312.19 167.40,325.03 167.80,308.12 168.20,322.97 168.60,305.31 169.00,317.48 169.40,306.14 169.80,315.83 170.20,303.67 170.60,303.66 171.00,322.48 171.40,300.56 171.80,320.10 172.20,307.40 172.60,315.90 173.00,298.34 173.40,313.46 173.80,323.54 174.20,301.51 174.60,323.94 175.00,304.58 175.40,320.65 175.80,301.18 176.20,314.97 176.60,301.38 177.00,297.88 177.40,297.35 177.80,306.88 178.20,303.31 178.60,308.39 179.00,320.34 179.40,308.12 179.80,327.48 180.20,320.65 180.60,331.92 181.00,316.05 181.40,320.63 181.80,306.16 182.20,316.96 182.60,306.70 183.00,309.75 183.40,311.06 183.80,299.91 184.20,313.06 184.60,309.36 185.00,293.92 185.00,277.90 185.40,321.07 185.80,319.13 186.20,309.60 186.60,294.66 187.00,314.58 187.40,295.55 187.80,309.71 188.20,293.17 188.60,288.75 188.60,280.50 189.00,293.42 189.40,289.11 189.80,291.87 190.20,305.89 190.60,314.72 191.00,297.90 191.40,313.77 191.80,298.42 192.20,311.59 192.60,300.70 193.00,302.27 193.40,290.11 193.80,290.81 194.20,307.33 194.60,290.77 195.00,321.81 195.40,296.34 195.80,314.52 196.20,301.02 196.60,318.96 197.00,311.13 197.40,320.57 197.80,309.88 198.20,327.57 198.60,313.44 199.00,326.21 199.40,327.49 199.80,311.67 200.20,319.51 200.60,304.16 201.00,314.18 201.40,302.18 201.80,307.84 202.20,292.13 202.60,300.81 203.00,291.25 203.40,307.35 203.80,292.74 204.20,288.87 204.00,283.00 204.60,306.94 205.00,296.51 205.40,314.34 205.80,301.46 206.20,313.41 206.60,299.62 207.00,310.26 207.40,286.22 207.80,304.99 208.20,300.01 208.10,277.90 208.60,296.73 209.00,322.32 209.40,280.05 209.80,330.12 210.20,307.29 210.60,327.88 211.00,298.70 211.40,316.42 211.80,302.09 212.20,316.09 212.60,313.94 213.00,305.85 213.40,317.74 213.80,300.12 214.20,315.78 214.60,304.46 215.00,311.80 215.40,301.84 215.80,313.97 216.20,303.18 216.60,321.17 217.00,309.08 217.40,323.25 217.80,306.86 218.20,317.02 218.60,297.99 219.00,313.78 219.40,310.41 219.80,308.01 220.20,295.46 220.60,306.35 221.00,302.25 221.40,300.26 221.80,314.22 222.20,305.06 222.60,303.98 223.00,300.34 223.40,323.91 223.80,305.36 224.20,306.95 224.60,334.44 225.00,311.95 225.40,315.68 225.80,333.30 226.20,315.61 226.60,322.75 227.00,310.76 227.40,326.50 227.80,314.86 228.20,324.85 228.60,314.73 229.00,329.77 229.40,324.39 229.80,324.74 230.20,316.55 230.60,326.53 231.00,308.91 231.40,322.47 231.80,308.33 232.20,322.47 232.60,305.61 233.00,304.88 233.40,318.23 233.80,306.48 234.20,317.47 234.60,313.17 235.00,322.38 235.40,307.94 235.80,324.91 236.20,309.85 236.60,327.02 237.00,319.37 237.40,320.33 237.80,301.55 238.20,299.99 238.60,298.90 239.00,315.29 239.40,297.97 239.80,307.85 240.20,298.28 240.60,312.80 241.00,296.16 241.40,314.72 241.80,311.57 242.20,297.03 242.60,310.38 243.00,317.50 243.40,304.00 243.80,305.45 244.20,329.74 244.60,341.79 245.00,327.64 245.40,348.77 245.80,329.54 246.20,338.83 246.60,319.49 247.00,319.60 247.40,315.61 247.80,326.81 248.20,312.26 248.60,320.33 249.00,307.71 249.40,319.23 249.80,309.50 250.20,302.85 250.60,315.51 251.00,302.23 251.40,316.06 251.80,298.86 252.20,314.29 252.60,299.57 253.00,309.20 253.40,314.41 253.80,300.98 254.20,310.01 254.60,316.31 255.00,297.78 255.40,309.87 255.80,312.84 256.20,300.43 256.60,310.36 257.00,295.29 257.40,289.84 257.80,301.74 258.20,292.58 258.60,302.07 259.00,290.55 259.40,289.28 259.80,303.85 259.60,276.60 260.20,294.93 260.60,313.83 261.00,296.15 261.40,317.15 261.80,313.61 262.20,299.40 262.60,311.89 263.00,308.23 263.40,308.78 263.80,296.69 264.20,301.05 264.60,289.60 264.50,274.00 265.00,300.57 265.40,284.84 265.80,287.66 266.20,301.81 266.60,303.10 267.00,291.59 267.40,290.77 267.80,306.95 268.20,296.30 268.60,308.35 269.00,309.44 269.40,295.22 269.80,309.59 270.20,310.18 270.60,294.58 271.00,307.87 271.40,285.66 271.80,290.08 272.20,303.13 272.60,300.14 273.00,280.20 273.40,307.01 273.80,286.62 274.20,284.07 274.60,300.89 275.00,283.71 275.40,308.05 275.80,311.07 276.20,293.23 276.60,283.28 277.00,297.75 277.40,318.33 277.80,303.75 278.20,317.05 278.60,299.78 279.00,306.96 279.40,325.41 279.80,308.20 280.20,330.66 280.60,317.32 281.00,336.93 281.40,330.44 281.80,327.85 282.20,335.42 282.00,355.20 282.60,353.21 283.00,332.75 283.40,347.82 283.80,332.70 284.20,343.77 284.60,333.26 285.00,343.61 285.40,327.60 285.80,347.45 286.20,334.88 286.60,340.94 287.00,340.43 287.40,332.53 287.80,312.77 288.20,310.94 288.60,320.18 289.00,324.58 289.40,337.09 289.80,320.72 290.20,328.00 290.60,312.53 291.00,326.07 290.80,296.00 291.40,312.52 291.80,334.90 292.20,320.97 292.60,332.78 293.00,327.13 293.40,324.75 293.80,339.23 294.20,342.63 294.60,325.96 295.00,342.43 295.40,334.11 295.80,327.12 296.20,340.79 296.60,325.32 297.00,333.61 297.40,344.47 297.80,332.03 298.20,310.08 298.60,313.38 299.00,326.79 299.40,309.63 299.80,322.97 299.80,303.70 300.20,313.74 300.60,333.74 301.00,322.91 301.40,343.48 301.80,333.23 302.20,333.42 302.60,350.04 303.00,354.65 303.40,339.89 303.80,325.38 304.20,337.73 304.60,355.87 305.00,338.29 305.40,359.29 305.80,338.22 306.20,339.75 306.60,363.89 307.00,340.98" fill="none" stroke="#b23a63" stroke-width="0.95" stroke-linejoin="round" opacity="1"/>
<rect x="29.5" y="264.5" width="278" height="182.5" fill="none" stroke="#8a8a8a" stroke-width="1.3"/>
<line x1="26.9" y1="427.3" x2="29.5" y2="427.3" stroke="#555" stroke-width="0.9"/>
<text x="25.2" y="429.57" font-size="6.3" fill="#333" text-anchor="end" font-family="'Liberation Sans', sans-serif" textLength="3.73" lengthAdjust="spacingAndGlyphs" stroke="#333" stroke-width="0.15">1</text>
<line x1="26.9" y1="407.6" x2="29.5" y2="407.6" stroke="#555" stroke-width="0.9"/>
<text x="25.2" y="409.87" font-size="6.3" fill="#333" text-anchor="end" font-family="'Liberation Sans', sans-serif" textLength="3.73" lengthAdjust="spacingAndGlyphs" stroke="#333" stroke-width="0.15">2</text>
<line x1="26.9" y1="387.9" x2="29.5" y2="387.9" stroke="#555" stroke-width="0.9"/>
<text x="25.2" y="390.17" font-size="6.3" fill="#333" text-anchor="end" font-family="'Liberation Sans', sans-serif" textLength="3.73" lengthAdjust="spacingAndGlyphs" stroke="#333" stroke-width="0.15">3</text>
<line x1="26.9" y1="368.2" x2="29.5" y2="368.2" stroke="#555" stroke-width="0.9"/>
<text x="25.2" y="370.47" font-size="6.3" fill="#333" text-anchor="end" font-family="'Liberation Sans', sans-serif" textLength="3.73" lengthAdjust="spacingAndGlyphs" stroke="#333" stroke-width="0.15">4</text>
<line x1="26.9" y1="348.5" x2="29.5" y2="348.5" stroke="#555" stroke-width="0.9"/>
<text x="25.2" y="350.77" font-size="6.3" fill="#333" text-anchor="end" font-family="'Liberation Sans', sans-serif" textLength="3.73" lengthAdjust="spacingAndGlyphs" stroke="#333" stroke-width="0.15">5</text>
<line x1="26.9" y1="328.8" x2="29.5" y2="328.8" stroke="#555" stroke-width="0.9"/>
<text x="25.2" y="331.07" font-size="6.3" fill="#333" text-anchor="end" font-family="'Liberation Sans', sans-serif" textLength="3.73" lengthAdjust="spacingAndGlyphs" stroke="#333" stroke-width="0.15">6</text>
<line x1="26.9" y1="309.1" x2="29.5" y2="309.1" stroke="#555" stroke-width="0.9"/>
<text x="25.2" y="311.37" font-size="6.3" fill="#333" text-anchor="end" font-family="'Liberation Sans', sans-serif" textLength="3.73" lengthAdjust="spacingAndGlyphs" stroke="#333" stroke-width="0.15">7</text>
<line x1="26.9" y1="289.4" x2="29.5" y2="289.4" stroke="#555" stroke-width="0.9"/>
<text x="25.2" y="291.67" font-size="6.3" fill="#333" text-anchor="end" font-family="'Liberation Sans', sans-serif" textLength="3.73" lengthAdjust="spacingAndGlyphs" stroke="#333" stroke-width="0.15">8</text>
<line x1="26.9" y1="269.7" x2="29.5" y2="269.7" stroke="#555" stroke-width="0.9"/>
<text x="25.2" y="271.97" font-size="6.3" fill="#333" text-anchor="end" font-family="'Liberation Sans', sans-serif" textLength="3.73" lengthAdjust="spacingAndGlyphs" stroke="#333" stroke-width="0.15">9</text>
<line x1="307.5" y1="422" x2="310.1" y2="422" stroke="#555" stroke-width="0.9"/>
<text x="313" y="424.34" font-size="6.5" fill="#b23a63" text-anchor="start" font-family="'Liberation Sans', sans-serif" textLength="9.62" lengthAdjust="spacingAndGlyphs" >1.5</text>
<line x1="307.5" y1="398" x2="310.1" y2="398" stroke="#555" stroke-width="0.9"/>
<text x="313" y="400.34" font-size="6.5" fill="#b23a63" text-anchor="start" font-family="'Liberation Sans', sans-serif" textLength="9.62" lengthAdjust="spacingAndGlyphs" >3.0</text>
<line x1="307.5" y1="374" x2="310.1" y2="374" stroke="#555" stroke-width="0.9"/>
<text x="313" y="376.34" font-size="6.5" fill="#b23a63" text-anchor="start" font-family="'Liberation Sans', sans-serif" textLength="9.62" lengthAdjust="spacingAndGlyphs" >4.5</text>
<line x1="307.5" y1="350" x2="310.1" y2="350" stroke="#555" stroke-width="0.9"/>
<text x="313" y="352.34" font-size="6.5" fill="#b23a63" text-anchor="start" font-family="'Liberation Sans', sans-serif" textLength="9.62" lengthAdjust="spacingAndGlyphs" >6.0</text>
<line x1="307.5" y1="326" x2="310.1" y2="326" stroke="#555" stroke-width="0.9"/>
<text x="313" y="328.34" font-size="6.5" fill="#b23a63" text-anchor="start" font-family="'Liberation Sans', sans-serif" textLength="9.62" lengthAdjust="spacingAndGlyphs" >7.5</text>
<line x1="307.5" y1="301.7" x2="310.1" y2="301.7" stroke="#555" stroke-width="0.9"/>
<text x="313" y="304.04" font-size="6.5" fill="#b23a63" text-anchor="start" font-family="'Liberation Sans', sans-serif" textLength="9.62" lengthAdjust="spacingAndGlyphs" >9.0</text>
<line x1="307.5" y1="277.7" x2="310.1" y2="277.7" stroke="#555" stroke-width="0.9"/>
<text x="313" y="280.04" font-size="6.5" fill="#b23a63" text-anchor="start" font-family="'Liberation Sans', sans-serif" textLength="13.47" lengthAdjust="spacingAndGlyphs" >10.5</text>
<line x1="29.5" y1="447" x2="29.5" y2="449.4" stroke="#555" stroke-width="0.9"/>
<text x="29.5" y="454.3" font-size="6.2" fill="#333" text-anchor="middle" font-family="'Liberation Sans', sans-serif" textLength="3.67" lengthAdjust="spacingAndGlyphs" stroke="#333" stroke-width="0.15">0</text>
<line x1="85.1" y1="447" x2="85.1" y2="449.4" stroke="#555" stroke-width="0.9"/>
<text x="85.1" y="454.3" font-size="6.2" fill="#333" text-anchor="middle" font-family="'Liberation Sans', sans-serif" textLength="7.34" lengthAdjust="spacingAndGlyphs" stroke="#333" stroke-width="0.15">20</text>
<line x1="140.7" y1="447" x2="140.7" y2="449.4" stroke="#555" stroke-width="0.9"/>
<text x="140.7" y="454.3" font-size="6.2" fill="#333" text-anchor="middle" font-family="'Liberation Sans', sans-serif" textLength="7.34" lengthAdjust="spacingAndGlyphs" stroke="#333" stroke-width="0.15">40</text>
<line x1="196.3" y1="447" x2="196.3" y2="449.4" stroke="#555" stroke-width="0.9"/>
<text x="196.3" y="454.3" font-size="6.2" fill="#333" text-anchor="middle" font-family="'Liberation Sans', sans-serif" textLength="7.34" lengthAdjust="spacingAndGlyphs" stroke="#333" stroke-width="0.15">60</text>
<line x1="251.9" y1="447" x2="251.9" y2="449.4" stroke="#555" stroke-width="0.9"/>
<text x="251.9" y="454.3" font-size="6.2" fill="#333" text-anchor="middle" font-family="'Liberation Sans', sans-serif" textLength="7.34" lengthAdjust="spacingAndGlyphs" stroke="#333" stroke-width="0.15">80</text>
<line x1="307.5" y1="447" x2="307.5" y2="449.4" stroke="#555" stroke-width="0.9"/>
<text x="307.5" y="454.3" font-size="6.2" fill="#333" text-anchor="middle" font-family="'Liberation Sans', sans-serif" textLength="11.02" lengthAdjust="spacingAndGlyphs" stroke="#333" stroke-width="0.15">100</text>
<text x="15" y="355.3" font-size="9.0" fill="#222" text-anchor="middle" font-family="'Liberation Sans', sans-serif" textLength="68.9" lengthAdjust="spacingAndGlyphs" transform="rotate(-90 15 355.3)" >Protein RMSD (Å)</text>
<rect x="316.2" y="320.5" width="11.5" height="72" fill="#fff"/>
<text x="319.7" y="356.5" font-size="8.8" fill="#b23a63" text-anchor="middle" font-family="'Liberation Sans', sans-serif" textLength="68.9" lengthAdjust="spacingAndGlyphs" transform="rotate(90 319.7 356.5)" >Ligand RMSD (Å)</text>
<text x="137.6" y="464.1" font-size="8.9" fill="#222" text-anchor="start" font-family="'Liberation Sans', sans-serif" textLength="61.9" lengthAdjust="spacingAndGlyphs" >Time (nsec)</text>
<rect x="126.8" y="247.3" width="81.4" height="8.2" fill="#fff" stroke="#ddd" stroke-width="0.6" rx="1"/>
<rect x="128" y="249" width="10.7" height="4.1" fill="#4f7b98"/>
<rect x="147" y="249" width="11.2" height="4.1" fill="#b23a63"/>
<text x="138.7" y="253.3" font-size="6.4" fill="#222" text-anchor="start" font-family="'Liberation Sans', sans-serif" textLength="8" lengthAdjust="spacingAndGlyphs" >Ca</text>
<text x="158.2" y="253.3" font-size="6.4" fill="#222" text-anchor="start" font-family="'Liberation Sans', sans-serif" textLength="48.7" lengthAdjust="spacingAndGlyphs" >(Lig) fit on Prot</text>
<text x="4.1" y="257.2" font-size="17" fill="#000" text-anchor="start" font-family="'Liberation Serif', serif" font-weight="bold" >b</text>
<polyline points="39.00,683.60 39.30,607.31 39.70,616.83 40.10,606.89 40.50,612.92 40.90,608.93 41.30,593.21 41.70,602.18 42.10,596.92 42.50,575.95 42.90,592.05 43.30,603.47 43.70,595.50 44.10,584.23 44.50,581.45 44.90,592.17 45.30,573.16 45.70,570.71 46.10,591.24 46.50,566.99 46.90,576.33 47.30,594.77 47.70,597.94 48.10,570.16 48.50,598.48 48.90,572.41 49.30,580.57 49.70,573.06 50.10,572.06 50.50,584.94 50.90,567.51 51.30,578.02 51.70,564.62 52.10,570.92 52.50,579.72 52.90,570.61 53.30,592.06 53.70,571.21 54.10,582.05 54.50,564.58 54.90,589.44 55.30,579.45 55.70,575.04 56.10,591.30 56.50,576.65 56.90,591.97 57.30,601.70 57.70,581.15 58.10,588.77 58.50,597.21 58.90,588.91 59.30,576.84 59.70,592.76 60.10,576.31 60.50,585.54 60.90,584.54 61.30,582.87 61.70,583.71 62.10,574.26 62.50,584.21 62.90,584.42 63.30,572.69 63.70,584.30 64.10,571.29 64.50,583.47 64.90,559.11 65.30,579.76 65.70,562.64 66.10,572.66 66.50,561.96 66.90,567.30 67.30,561.04 67.70,560.15 68.10,573.26 68.50,568.50 68.90,581.57 69.30,572.66 69.70,586.06 70.10,583.70 70.50,585.60 70.90,579.80 71.30,584.57 71.70,577.60 72.10,575.79 72.50,568.76 72.90,574.90 73.30,577.03 73.70,568.26 74.10,573.47 74.50,562.18 74.90,576.86 75.30,561.96 75.70,552.79 76.10,560.48 76.50,560.75 76.90,573.57 77.30,564.52 77.70,577.21 78.10,588.18 78.50,572.14 78.90,583.86 79.30,563.54 79.70,570.69 80.10,577.33 80.50,564.29 80.90,571.72 81.30,563.16 81.70,573.71 82.10,573.95 82.50,566.86 82.90,574.11 83.30,565.25 83.70,575.11 84.10,563.67 84.50,575.65 84.90,564.95 85.30,578.63 85.70,568.44 86.10,580.98 86.50,568.22 86.90,566.62 87.30,560.48 87.70,565.47 88.10,575.03 88.50,565.82 88.90,572.65 89.30,576.37 89.70,565.71 90.10,581.97 90.50,573.35 90.90,564.90 91.30,569.51 91.70,558.69 92.10,561.36 92.50,568.92 92.90,566.30 93.30,552.42 93.70,561.56 94.10,548.97 94.50,545.85 94.90,557.02 95.30,569.41 95.70,546.95 96.10,570.40 96.50,558.16 96.90,577.18 97.30,563.91 97.70,562.18 98.10,573.18 98.50,563.43 98.90,574.39 99.30,564.67 99.70,571.30 100.10,570.83 100.50,563.94 100.90,578.62 101.30,570.86 101.70,567.44 102.10,571.19 102.50,560.88 102.90,570.10 103.30,563.58 103.70,562.77 104.10,571.33 104.50,565.17 104.90,576.27 105.30,561.30 105.70,581.93 106.10,580.74 106.50,569.60 106.90,566.27 107.30,583.91 107.70,567.06 108.10,583.89 108.50,561.38 108.90,560.39 109.30,571.83 109.70,555.75 110.10,574.38 110.50,555.03 110.90,555.85 111.30,562.59 111.70,552.26 112.10,559.28 112.50,544.24 112.50,534.00 112.90,555.68 113.30,566.31 113.70,545.72 114.10,562.98 114.50,564.02 114.90,552.31 115.30,566.03 115.70,554.67 116.10,555.61 116.50,568.73 116.90,555.33 117.30,559.43 117.70,568.22 118.10,565.49 118.50,556.17 118.90,568.96 119.30,551.82 119.70,554.34 120.10,565.10 120.50,556.10 120.90,570.83 121.30,556.78 121.70,558.74 122.10,568.43 122.50,561.52 122.90,559.01 123.30,569.37 123.70,563.13 124.10,575.54 124.50,573.32 124.90,572.79 125.30,563.86 125.70,582.00 126.10,570.85 126.50,572.81 126.90,565.32 127.30,570.02 127.70,563.95 128.10,570.70 128.50,573.08 128.90,567.01 129.30,584.04 129.70,579.00 130.10,583.14 130.50,575.29 130.90,567.86 131.30,581.66 131.70,575.74 132.10,565.68 132.50,572.63 132.90,568.33 133.30,572.35 133.70,563.63 134.10,574.25 134.50,564.16 134.90,563.34 135.30,562.22 135.70,574.57 136.10,565.91 136.50,573.03 136.90,564.37 137.30,573.16 137.70,567.73 138.10,575.60 138.50,567.44 138.90,571.68 139.30,573.38 139.70,572.79 140.10,557.48 140.00,541.80 140.50,566.66 140.90,558.70 141.30,555.91 141.70,563.85 142.10,568.14 142.50,565.05 142.90,562.84 143.30,570.33 143.70,560.01 144.10,571.51 144.50,565.03 144.90,568.47 145.30,567.80 145.70,561.57 146.10,568.79 146.50,566.43 146.90,558.90 147.30,563.57 147.70,557.13 148.10,563.02 148.50,553.61 148.90,559.61 149.30,550.85 149.70,561.67 150.10,553.53 150.50,561.03 150.90,548.32 151.30,561.05 151.70,546.01 152.10,560.08 152.50,543.11 152.90,553.75 153.30,531.11 153.70,551.33 154.10,542.94 154.50,536.19 154.90,531.10 155.30,542.19 155.70,561.22 156.10,537.92 156.50,539.90 156.90,552.62 157.30,541.16 157.70,539.75 158.10,556.54 158.50,555.39 158.90,545.67 159.30,553.74 159.70,557.37 160.10,548.78 160.50,555.57 160.90,545.54 161.30,558.15 161.70,555.03 162.10,555.48 162.50,546.50 162.90,559.28 163.30,547.42 163.70,561.22 164.10,562.03 164.50,538.77 164.90,558.58 165.30,547.57 165.70,555.64 166.10,556.33 166.50,544.23 166.90,552.98 167.30,540.40 167.70,550.63 168.10,539.61 168.50,549.62 168.90,538.39 169.30,538.82 169.70,555.94 170.10,535.24 170.50,565.46 170.90,543.37 171.30,553.31 171.70,546.55 172.10,555.91 172.50,546.64 172.90,557.39 173.30,549.37 173.70,556.25 174.10,546.94 174.50,558.59 174.90,557.43 175.30,547.44 175.70,553.94 176.10,558.99 176.50,562.77 176.90,549.84 177.30,564.63 177.70,550.85 178.10,560.73 178.50,544.12 178.90,540.37 179.30,552.08 179.70,532.56 180.10,536.64 180.50,554.56 180.90,550.32 181.30,543.26 181.70,548.39 182.10,542.45 182.50,551.87 182.90,538.06 183.30,547.20 183.70,536.39 184.10,540.37 184.50,533.04 184.90,529.86 185.30,542.06 185.70,533.23 186.10,546.06 186.50,534.77 186.90,548.18 187.30,544.01 187.70,537.08 188.10,547.00 188.50,539.78 188.90,541.10 189.30,530.63 189.70,544.21 190.10,550.68 190.50,541.87 190.90,548.59 191.30,536.31 191.70,545.35 192.10,535.68 192.50,541.78 192.90,536.72 193.30,545.98 193.70,534.78 194.10,547.81 194.50,536.08 194.90,550.75 195.30,532.94 195.70,549.51 196.10,530.88 196.50,547.94 196.90,531.46 197.30,530.14 197.70,533.30 198.10,541.28 198.50,542.86 198.90,529.16 199.30,546.82 199.20,513.90 199.70,528.74 200.10,542.92 200.50,533.80 200.90,542.04 201.30,532.94 201.70,540.37 202.10,531.51 202.50,541.77 202.90,533.66 203.30,532.63 203.70,544.94 204.10,535.07 204.50,549.27 204.90,539.94 205.30,547.00 205.70,546.54 206.10,539.24 206.50,530.17 206.90,548.02 207.30,550.70 207.70,538.48 208.10,551.05 208.50,537.76 208.90,533.32 209.30,544.10 209.70,531.39 210.10,516.20 210.50,526.94 210.90,524.70 211.30,533.60 211.70,525.05 212.10,540.11 212.50,529.08 212.90,541.85 213.30,544.42 213.70,534.19 214.10,536.28 214.50,542.18 214.90,530.21 215.30,537.65 215.70,521.23 216.10,535.50 216.50,535.47 216.90,525.45 217.30,541.29 217.70,532.64 218.10,541.16 218.50,532.88 218.90,543.78 219.30,553.21 219.70,544.96 220.10,534.53 220.50,542.26 220.90,531.36 221.30,551.20 221.70,534.28 222.10,540.85 222.50,530.66 222.90,541.21 223.30,529.46 223.70,546.05 224.10,543.54 224.50,535.13 224.90,545.13 225.30,523.01 225.70,548.24 226.10,539.52 226.50,529.47 226.90,540.99 227.30,549.71 227.70,537.15 228.10,535.58 228.50,547.84 228.90,550.71 229.30,549.27 229.70,548.94 230.10,539.24 230.50,549.74 230.90,540.50 231.30,526.77 231.70,537.68 232.10,550.14 232.50,542.54 232.90,541.12 233.30,550.80 233.70,542.28 234.10,551.99 234.50,543.54 234.90,550.35 235.30,556.00 235.70,551.13 236.10,551.21 236.50,535.07 236.90,546.76 237.30,530.14 237.70,541.94 238.10,541.00 238.50,523.82 238.90,524.67 239.30,532.04 239.70,523.17 240.10,531.27 240.50,533.44 240.90,519.73 241.30,526.98 241.70,541.03 242.10,527.33 242.50,531.10 242.90,533.30 243.30,547.09 243.70,534.87 244.10,548.55 244.50,548.24 244.90,540.19 245.30,537.16 245.70,531.42 246.10,533.94 246.50,531.87 246.90,539.96 247.30,540.62 247.70,541.60 248.10,530.32 248.50,540.56 248.90,532.24 249.30,544.08 249.70,537.31 250.10,543.13 250.50,544.34 250.90,544.55 251.30,538.13 251.70,550.42 252.10,538.43 252.50,547.66 252.90,546.08 253.30,545.87 253.70,538.78 254.10,546.95 254.50,537.70 254.90,545.47 255.30,536.51 255.70,532.02 256.10,541.43 256.50,529.20 256.90,535.53 257.30,528.93 257.70,529.09 258.10,536.30 258.50,524.93 258.90,535.62 259.30,530.22 259.70,541.14 260.10,542.87 260.50,531.73 260.90,543.72 261.30,536.97 261.70,549.12 262.10,541.55 262.50,553.82 262.90,555.49 263.30,540.40 263.70,551.73 264.10,539.06 264.50,548.91 264.90,550.74 265.30,539.94 265.70,549.34 266.10,540.89 266.50,552.32 266.90,542.36 267.30,553.58 267.70,544.52 268.10,540.56 268.50,543.11 268.90,538.83 269.30,547.67 269.70,561.11 270.10,542.96 270.50,556.99 270.90,546.54 271.30,555.14 271.70,549.60 272.10,558.14 272.50,546.11 272.90,559.38 273.30,549.18 273.70,559.82 274.10,546.46 274.50,546.56 274.90,557.78 275.30,556.89 275.70,545.19 276.10,553.02 276.50,544.52 276.90,557.53 277.30,545.73 277.70,557.34 278.10,545.86 278.50,555.83 278.90,548.21 279.30,555.47 279.70,550.50 280.10,549.96 280.50,558.70 280.90,544.23 281.30,551.02 281.70,558.47 282.10,553.63 282.50,561.23 282.90,547.97 283.30,558.55 283.70,553.33 284.10,564.04 284.50,549.86 284.90,541.73 285.30,549.43 285.70,540.42 286.10,547.84 286.50,558.61 286.90,546.86 287.30,538.22 287.70,543.29 288.10,538.13 288.50,548.25 288.90,547.61 289.30,539.47 289.70,548.55 290.10,537.14 290.50,549.19 290.90,537.52 291.30,546.43 291.70,542.13 292.10,549.49 292.50,538.95 292.90,546.47 293.30,538.18 293.70,546.45 294.10,538.46 294.50,526.93 294.90,536.03 295.30,547.63 295.70,543.62 296.10,540.94 296.50,551.62 296.90,541.95 297.30,550.56 297.70,542.54 298.10,553.27 298.50,541.21 298.90,543.37" fill="none" stroke="#4f7b98" stroke-width="0.95" stroke-linejoin="round" opacity="1"/>
<polyline points="39.00,683.60 39.30,614.51 39.70,621.23 40.10,624.49 40.50,611.90 40.90,610.43 41.30,617.45 41.70,599.83 42.10,617.05 42.50,614.53 42.90,598.78 43.30,599.82 43.70,548.85 44.10,586.82 44.50,539.75 44.90,553.47 45.30,555.44 45.10,513.90 45.70,555.66 46.10,575.15 46.50,594.68 46.90,570.85 47.30,580.42 47.70,592.76 48.10,589.48 48.50,575.50 48.90,587.03 49.30,564.80 49.70,579.82 50.10,587.02 50.50,580.20 50.90,572.54 51.30,589.31 51.70,578.32 52.10,586.48 52.50,588.22 52.90,576.43 53.30,590.04 53.70,581.77 54.10,596.60 54.50,588.41 54.90,599.15 55.30,605.46 55.70,586.92 56.10,609.87 56.50,581.08 56.90,611.14 57.30,589.60 57.70,616.92 57.30,621.70 58.10,612.95 58.50,589.78 58.90,616.32 59.30,599.69 59.70,610.76 60.10,615.98 60.50,609.52 60.90,592.80 61.30,618.37 61.70,586.25 62.10,602.41 62.50,607.16 62.90,591.26 63.30,602.73 63.70,601.60 64.10,591.06 64.50,607.96 64.90,610.93 65.30,590.59 65.70,604.35 66.10,587.80 66.50,605.16 66.90,598.90 67.30,580.00 67.70,597.47 68.10,581.17 68.50,604.06 68.90,608.10 69.30,592.70 69.70,609.20 70.10,603.31 70.50,605.23 70.90,618.86 71.30,604.92 71.70,619.72 72.10,607.56 72.50,617.08 72.50,624.20 72.90,603.84 73.30,607.19 73.70,604.53 74.10,591.12 74.50,597.15 74.90,585.10 75.30,584.97 75.70,594.25 76.10,580.58 76.50,591.81 76.90,603.42 77.30,593.08 77.70,591.28 78.10,583.65 78.50,592.97 78.90,591.81 79.30,581.91 79.70,595.09 80.10,582.85 80.50,595.54 80.90,582.04 81.30,586.45 81.70,572.30 82.10,583.45 82.50,566.78 82.90,584.47 83.30,570.31 83.70,586.07 84.10,573.03 84.50,578.98 84.90,588.39 85.30,578.61 85.70,584.88 86.10,592.44 86.50,585.51 86.90,596.84 87.30,589.18 87.70,596.18 88.10,589.82 88.50,596.64 88.90,585.70 89.30,596.83 89.70,584.80 90.10,598.39 90.50,585.58 90.90,596.79 91.30,587.57 91.70,591.21 92.10,577.24 92.50,592.68 92.90,584.80 93.30,591.37 93.70,584.51 94.10,591.91 94.50,582.41 94.90,591.02 95.30,583.20 95.70,592.17 96.10,582.94 96.50,589.44 96.90,582.02 97.30,590.82 97.70,584.61 98.10,583.13 98.50,591.61 98.90,586.40 99.30,591.71 99.70,589.50 100.10,586.27 100.50,590.77 100.90,585.95 101.30,589.31 101.70,583.94 102.10,581.51 102.50,591.43 102.90,583.54 103.30,584.34 103.70,588.47 104.10,582.16 104.50,581.42 104.90,588.58 105.30,588.58 105.70,576.51 106.10,586.55 106.50,587.82 106.90,590.79 107.30,583.23 107.70,588.24 108.10,597.67 108.50,586.35 108.90,576.43 109.30,588.39 109.70,578.07 110.10,585.14 110.50,571.72 110.90,572.44 111.30,581.49 111.70,569.42 112.10,577.64 112.50,566.25 112.90,577.83 113.30,570.67 113.70,579.84 114.10,580.62 114.50,569.34 114.90,586.87 115.30,575.03 115.70,566.08 116.10,587.87 116.50,578.23 116.90,590.33 117.30,576.24 117.70,588.59 118.10,580.06 118.50,582.78 118.90,574.24 119.30,580.49 119.70,577.84 120.10,578.61 120.50,572.97 120.90,583.38 121.30,576.03 121.70,580.51 122.10,568.58 122.50,579.26 122.90,583.51 123.30,575.48 123.70,575.38 124.10,587.59 124.50,579.99 124.90,591.59 125.30,582.47 125.70,582.40 126.10,590.83 126.50,585.10 126.90,583.41 127.30,597.18 127.70,596.59 128.10,586.70 128.50,592.13 128.90,591.49 129.30,585.94 129.70,590.12 130.10,586.05 130.50,595.39 130.90,588.82 131.30,588.65 131.70,599.83 132.10,591.00 132.50,600.21 132.90,592.23 133.30,597.48 133.70,587.96 134.10,595.01 134.50,584.59 134.90,588.62 135.30,583.58 135.70,589.66 136.10,589.43 136.50,582.16 136.90,590.45 137.30,594.77 137.70,585.07 138.10,592.87 138.50,580.71 138.90,587.95 139.30,585.57 139.70,578.44 140.10,586.32 140.50,577.18 140.90,587.61 141.30,586.00 141.70,587.91 142.10,581.91 142.50,591.22 142.90,588.54 143.30,577.19 143.70,589.40 144.10,567.11 144.50,579.01 144.90,583.67 145.30,575.31 145.70,583.48 146.10,576.16 146.50,587.26 146.90,575.36 147.30,586.93 147.70,578.81 148.10,581.78 148.50,576.66 148.90,583.47 149.30,577.00 149.70,575.94 150.10,580.21 150.50,571.81 150.90,581.85 151.30,574.15 151.70,571.00 152.10,570.05 152.50,565.70 152.90,567.13 153.30,571.81 153.70,579.65 154.10,573.44 154.50,582.86 154.90,569.95 155.30,569.35 155.70,581.83 156.10,569.77 156.50,582.84 156.90,583.22 157.30,569.84 157.70,580.86 158.10,579.14 158.50,563.86 158.90,582.41 159.30,578.94 159.70,567.24 160.10,581.43 160.50,571.77 160.90,580.41 161.30,571.25 161.70,569.79 162.10,580.59 162.50,573.80 162.90,583.91 163.30,569.04 163.70,570.73 164.10,575.25 164.50,582.41 164.90,573.38 165.30,582.45 165.70,581.77 166.10,583.00 166.50,581.72 166.90,573.46 167.30,579.55 167.70,566.35 168.10,578.72 168.50,578.67 168.90,593.01 169.30,586.48 169.70,579.05 170.10,572.55 170.50,577.81 170.90,561.44 171.30,560.65 171.70,575.97 172.10,559.84 172.50,562.96 172.90,569.90 173.30,564.15 173.70,573.49 174.10,562.73 174.50,569.16 174.90,563.44 175.30,573.48 175.70,574.85 176.10,569.14 176.50,581.74 176.90,576.52 177.30,581.22 177.70,587.17 178.10,577.87 178.50,575.90 178.90,587.67 178.90,595.00 179.30,576.42 179.70,596.02 180.10,572.13 180.50,584.32 180.90,573.00 181.30,577.98 181.70,580.84 182.10,568.29 182.50,575.05 182.90,574.65 183.30,566.96 183.70,572.10 184.10,574.93 184.50,562.81 184.90,573.29 185.30,563.47 185.70,572.96 186.10,558.56 186.50,569.47 186.90,559.38 187.30,572.09 187.70,560.67 188.10,570.31 188.50,558.61 188.90,554.86 189.30,570.73 189.70,562.71 190.10,572.62 190.50,568.82 190.90,578.20 191.30,569.85 191.70,579.46 192.10,569.05 192.50,578.21 192.90,568.88 193.30,575.27 193.70,566.89 194.10,580.58 194.50,572.29 194.90,563.84 195.30,574.16 195.70,564.96 196.10,569.13 196.50,558.52 196.90,555.36 197.30,549.38 197.70,565.62 198.10,558.20 198.50,561.79 198.90,554.38 199.30,564.54 199.70,564.47 200.10,563.54 200.50,552.38 200.90,554.52 201.30,564.25 201.70,563.87 202.10,549.86 202.50,563.88 202.90,557.67 203.30,548.23 203.70,556.66 204.10,548.63 204.50,538.38 204.90,559.52 205.30,569.36 205.70,563.43 206.10,577.00 206.50,569.20 206.90,578.92 207.30,569.29 207.70,577.65 208.10,574.22 208.50,567.75 208.90,574.14 209.30,565.09 209.70,573.58 210.10,576.97 210.50,567.78 210.90,565.53 211.30,579.38 211.70,564.57 212.10,573.58 212.50,558.96 212.90,566.84 213.30,551.89 213.70,559.75 214.10,549.92 214.50,561.04 214.90,554.33 215.30,570.65 215.70,560.01 216.10,576.98 216.50,578.53 216.90,565.77 217.30,569.03 217.70,573.12 218.10,567.45 218.50,574.40 218.90,563.13 219.30,572.17 219.70,562.75 220.10,567.57 220.50,567.30 220.90,565.51 221.30,550.42 221.70,564.77 222.10,555.38 222.50,572.19 222.90,570.52 223.30,587.59 223.70,595.45 223.60,593.80 224.10,589.80 224.50,581.58 224.90,568.37 225.30,574.63 225.70,564.11 226.10,565.74 226.50,570.62 226.90,558.48 227.30,568.11 227.70,560.24 228.10,571.27 228.50,562.15 228.90,569.41 229.30,560.55 229.70,565.34 230.10,576.26 230.50,564.00 230.90,569.31 231.30,562.06 231.70,570.58 232.10,557.70 232.50,567.48 232.90,558.15 233.30,559.11 233.70,574.47 234.10,560.90 234.50,567.58 234.90,582.95 235.30,560.54 235.70,559.10 236.10,558.29 236.50,554.89 236.90,568.08 237.30,557.64 237.70,573.77 238.10,564.62 238.50,555.39 238.90,563.75 239.30,558.77 239.70,565.08 240.10,553.27 240.50,554.83 240.90,563.92 241.30,548.88 241.70,564.65 242.10,548.45 242.50,551.12 242.90,559.75 243.30,554.09 243.70,562.09 244.10,551.75 244.50,561.99 244.90,565.94 245.30,557.59 245.70,564.02 246.10,552.99 246.50,563.87 246.90,552.00 247.30,562.96 247.70,552.21 248.10,556.61 248.50,553.75 248.90,567.85 249.30,556.69 249.70,567.66 250.10,557.66 250.50,565.95 250.90,564.97 251.30,553.06 251.70,560.85 252.10,549.91 252.50,557.39 252.90,561.66 253.30,548.37 253.70,561.05 254.10,555.40 254.50,558.12 254.90,560.52 255.30,571.34 255.70,559.31 256.10,564.31 256.50,573.63 256.90,562.87 257.30,574.52 257.70,561.19 258.10,568.74 258.50,557.21 258.90,566.62 259.30,557.28 259.70,559.48 260.10,559.60 260.50,558.94 260.90,551.70 261.30,549.83 261.70,557.09 262.10,549.74 262.50,548.23 262.90,557.56 263.30,552.44 263.70,564.01 264.10,552.10 264.50,571.30 264.90,565.27 265.30,553.43 265.70,566.82 266.10,563.52 266.50,549.08 266.90,560.49 267.30,543.87 267.70,555.56 268.10,541.16 268.50,558.73 268.90,553.66 269.30,552.25 269.70,569.84 270.10,563.63 270.00,581.00 270.50,573.04 270.90,574.53 271.30,567.22 271.70,554.84 272.10,562.82 272.50,549.83 272.90,564.16 273.30,555.53 273.70,564.57 274.10,556.45 274.50,565.75 274.90,558.46 275.30,563.95 275.70,559.20 276.10,566.32 276.50,551.05 276.90,571.04 277.30,562.76 277.70,556.86 278.10,568.72 278.50,564.58 278.90,553.39 279.30,565.54 279.70,552.97 280.10,557.36 280.50,549.02 280.90,563.27 281.30,553.19 281.70,564.74 282.10,553.93 282.50,567.38 282.90,560.19 283.30,568.50 283.70,555.68 284.10,544.20 284.50,554.57 284.90,562.98 285.30,546.36 285.70,548.53 286.10,550.99 286.50,574.55 286.90,566.50 287.30,556.11 287.70,566.45 288.10,556.12 288.50,566.81 288.90,559.18 289.30,568.92 289.70,557.65 290.10,557.36 290.50,550.65 290.90,567.75 291.30,552.04 291.70,561.51 292.10,574.50 292.50,563.55 292.90,549.18 293.30,549.09 293.70,559.61 294.10,550.31 294.50,545.41 294.90,558.94 295.30,544.43 295.70,558.39 296.10,544.15 296.50,553.49 296.90,563.71 297.30,544.41 297.70,551.00 298.10,546.14 298.50,546.88 298.90,552.99" fill="none" stroke="#b23a63" stroke-width="0.95" stroke-linejoin="round" opacity="1"/>
<rect x="39" y="505" width="260.5" height="178.6" fill="none" stroke="#8a8a8a" stroke-width="1.3"/>
<line x1="36.4" y1="663.78" x2="39" y2="663.78" stroke="#555" stroke-width="0.9"/>
<text x="34.6" y="665.8" font-size="5.6" fill="#333" text-anchor="end" font-family="'Liberation Sans', sans-serif" textLength="8.29" lengthAdjust="spacingAndGlyphs" stroke="#333" stroke-width="0.15">0.5</text>
<line x1="36.4" y1="643.96" x2="39" y2="643.96" stroke="#555" stroke-width="0.9"/>
<text x="34.6" y="645.98" font-size="5.6" fill="#333" text-anchor="end" font-family="'Liberation Sans', sans-serif" textLength="8.29" lengthAdjust="spacingAndGlyphs" stroke="#333" stroke-width="0.15">1.0</text>
<line x1="36.4" y1="624.14" x2="39" y2="624.14" stroke="#555" stroke-width="0.9"/>
<text x="34.6" y="626.16" font-size="5.6" fill="#333" text-anchor="end" font-family="'Liberation Sans', sans-serif" textLength="8.29" lengthAdjust="spacingAndGlyphs" stroke="#333" stroke-width="0.15">1.5</text>
<line x1="36.4" y1="604.32" x2="39" y2="604.32" stroke="#555" stroke-width="0.9"/>
<text x="34.6" y="606.34" font-size="5.6" fill="#333" text-anchor="end" font-family="'Liberation Sans', sans-serif" textLength="8.29" lengthAdjust="spacingAndGlyphs" stroke="#333" stroke-width="0.15">2.0</text>
<line x1="36.4" y1="584.5" x2="39" y2="584.5" stroke="#555" stroke-width="0.9"/>
<text x="34.6" y="586.52" font-size="5.6" fill="#333" text-anchor="end" font-family="'Liberation Sans', sans-serif" textLength="8.29" lengthAdjust="spacingAndGlyphs" stroke="#333" stroke-width="0.15">2.5</text>
<line x1="36.4" y1="564.68" x2="39" y2="564.68" stroke="#555" stroke-width="0.9"/>
<text x="34.6" y="566.7" font-size="5.6" fill="#333" text-anchor="end" font-family="'Liberation Sans', sans-serif" textLength="8.29" lengthAdjust="spacingAndGlyphs" stroke="#333" stroke-width="0.15">3.0</text>
<line x1="36.4" y1="544.86" x2="39" y2="544.86" stroke="#555" stroke-width="0.9"/>
<text x="34.6" y="546.88" font-size="5.6" fill="#333" text-anchor="end" font-family="'Liberation Sans', sans-serif" textLength="8.29" lengthAdjust="spacingAndGlyphs" stroke="#333" stroke-width="0.15">3.5</text>
<line x1="36.4" y1="525.04" x2="39" y2="525.04" stroke="#555" stroke-width="0.9"/>
<text x="34.6" y="527.06" font-size="5.6" fill="#333" text-anchor="end" font-family="'Liberation Sans', sans-serif" textLength="8.29" lengthAdjust="spacingAndGlyphs" stroke="#333" stroke-width="0.15">4.0</text>
<line x1="299.5" y1="663.92" x2="302.1" y2="663.92" stroke="#555" stroke-width="0.9"/>
<text x="304.2" y="665.94" font-size="5.6" fill="#b23a63" text-anchor="start" font-family="'Liberation Sans', sans-serif" textLength="8.29" lengthAdjust="spacingAndGlyphs" >0.8</text>
<line x1="299.5" y1="644.24" x2="302.1" y2="644.24" stroke="#555" stroke-width="0.9"/>
<text x="304.2" y="646.26" font-size="5.6" fill="#b23a63" text-anchor="start" font-family="'Liberation Sans', sans-serif" textLength="8.29" lengthAdjust="spacingAndGlyphs" >1.6</text>
<line x1="299.5" y1="624.56" x2="302.1" y2="624.56" stroke="#555" stroke-width="0.9"/>
<line x1="299.5" y1="604.88" x2="302.1" y2="604.88" stroke="#555" stroke-width="0.9"/>
<line x1="299.5" y1="585.2" x2="302.1" y2="585.2" stroke="#555" stroke-width="0.9"/>
<line x1="299.5" y1="565.52" x2="302.1" y2="565.52" stroke="#555" stroke-width="0.9"/>
<line x1="299.5" y1="545.84" x2="302.1" y2="545.84" stroke="#555" stroke-width="0.9"/>
<text x="304.2" y="547.86" font-size="5.6" fill="#b23a63" text-anchor="start" font-family="'Liberation Sans', sans-serif" textLength="8.29" lengthAdjust="spacingAndGlyphs" >5.6</text>
<line x1="299.5" y1="526.16" x2="302.1" y2="526.16" stroke="#555" stroke-width="0.9"/>
<text x="304.2" y="528.18" font-size="5.6" fill="#b23a63" text-anchor="start" font-family="'Liberation Sans', sans-serif" textLength="8.29" lengthAdjust="spacingAndGlyphs" >6.4</text>
<line x1="299.5" y1="506.48" x2="302.1" y2="506.48" stroke="#555" stroke-width="0.9"/>
<text x="304.2" y="508.5" font-size="5.6" fill="#b23a63" text-anchor="start" font-family="'Liberation Sans', sans-serif" textLength="8.29" lengthAdjust="spacingAndGlyphs" >7.2</text>
<line x1="39" y1="683.6" x2="39" y2="686" stroke="#555" stroke-width="0.9"/>
<text x="39" y="691.2" font-size="5.6" fill="#333" text-anchor="middle" font-family="'Liberation Sans', sans-serif" textLength="3.32" lengthAdjust="spacingAndGlyphs" stroke="#333" stroke-width="0.15">0</text>
<line x1="91.1" y1="683.6" x2="91.1" y2="686" stroke="#555" stroke-width="0.9"/>
<text x="91.1" y="691.2" font-size="5.6" fill="#333" text-anchor="middle" font-family="'Liberation Sans', sans-serif" textLength="6.63" lengthAdjust="spacingAndGlyphs" stroke="#333" stroke-width="0.15">20</text>
<line x1="143.2" y1="683.6" x2="143.2" y2="686" stroke="#555" stroke-width="0.9"/>
<text x="143.2" y="691.2" font-size="5.6" fill="#333" text-anchor="middle" font-family="'Liberation Sans', sans-serif" textLength="6.63" lengthAdjust="spacingAndGlyphs" stroke="#333" stroke-width="0.15">40</text>
<line x1="195.3" y1="683.6" x2="195.3" y2="686" stroke="#555" stroke-width="0.9"/>
<text x="195.3" y="691.2" font-size="5.6" fill="#333" text-anchor="middle" font-family="'Liberation Sans', sans-serif" textLength="6.63" lengthAdjust="spacingAndGlyphs" stroke="#333" stroke-width="0.15">60</text>
<line x1="247.4" y1="683.6" x2="247.4" y2="686" stroke="#555" stroke-width="0.9"/>
<text x="247.4" y="691.2" font-size="5.6" fill="#333" text-anchor="middle" font-family="'Liberation Sans', sans-serif" textLength="6.63" lengthAdjust="spacingAndGlyphs" stroke="#333" stroke-width="0.15">80</text>
<line x1="299.5" y1="683.6" x2="299.5" y2="686" stroke="#555" stroke-width="0.9"/>
<text x="299.5" y="691.2" font-size="5.6" fill="#333" text-anchor="middle" font-family="'Liberation Sans', sans-serif" textLength="9.95" lengthAdjust="spacingAndGlyphs" stroke="#333" stroke-width="0.15">100</text>
<text x="20" y="594" font-size="9.2" fill="#222" text-anchor="middle" font-family="'Liberation Sans', sans-serif" textLength="68.8" lengthAdjust="spacingAndGlyphs" transform="rotate(-90 20 594)" >Protein RMSD (Å)</text>
<text x="306" y="594.6" font-size="8.9" fill="#b23a63" text-anchor="middle" font-family="'Liberation Sans', sans-serif" textLength="66.3" lengthAdjust="spacingAndGlyphs" transform="rotate(90 306 594.6)" >Ligand RMSD (Å)</text>
<text x="139.7" y="700.6" font-size="9.2" fill="#222" text-anchor="start" font-family="'Liberation Sans', sans-serif" textLength="57.3" lengthAdjust="spacingAndGlyphs" >Time (nsec)</text>
<rect x="129" y="488.3" width="77" height="7.8" fill="#fff" stroke="#ddd" stroke-width="0.6" rx="1"/>
<rect x="130.2" y="489.9" width="10.2" height="4.4" fill="#4f7b98"/>
<rect x="148.5" y="489.9" width="11.2" height="4.4" fill="#b23a63"/>
<text x="140.4" y="494.2" font-size="6.2" fill="#222" text-anchor="start" font-family="'Liberation Sans', sans-serif" textLength="8" lengthAdjust="spacingAndGlyphs" >Ca</text>
<text x="159.7" y="494.2" font-size="6.2" fill="#222" text-anchor="start" font-family="'Liberation Sans', sans-serif" textLength="44.7" lengthAdjust="spacingAndGlyphs" >(Lig) fit on Prot</text>
<text x="2.9" y="494.6" font-size="17" fill="#000" text-anchor="start" font-family="'Liberation Serif', serif" font-weight="bold" >c</text>
<polyline points="388.30,159.00 388.70,157.54 389.10,153.64 389.50,152.00 389.88,152.25 390.25,156.24 390.62,152.52 391.00,155.00 391.38,151.18 391.75,153.16 392.12,148.60 392.50,148.00 392.90,139.06 393.30,134.50 393.75,146.52 394.20,162.00 394.56,159.86 394.92,164.38 395.28,160.64 395.64,163.51 396.00,163.00 396.35,162.94 396.70,162.32 397.05,163.12 397.40,161.80 397.75,162.54 398.10,160.76 398.45,161.32 398.80,161.00 399.19,160.37 399.57,157.82 399.96,157.33 400.34,153.71 400.73,153.40 401.11,150.70 401.50,150.00 401.88,151.32 402.26,154.55 402.64,155.80 403.02,158.95 403.40,161.00 403.79,161.10 404.17,158.17 404.56,159.18 404.94,156.94 405.33,156.38 405.71,154.26 406.10,154.00 406.48,153.67 406.86,155.02 407.24,154.13 407.62,156.62 408.00,156.00 408.39,156.93 408.77,156.97 409.16,158.52 409.54,157.80 409.93,159.65 410.31,158.84 410.70,160.00 411.05,159.90 411.40,160.78 411.75,160.96 412.10,162.05 412.45,161.00 412.80,162.76 413.15,161.73 413.50,163.00 413.86,159.75 414.22,158.86 414.58,154.41 414.94,152.99 415.30,150.00 415.68,152.17 416.06,153.92 416.44,156.05 416.82,156.97 417.20,160.00 417.55,158.83 417.90,160.65 418.25,159.49 418.60,160.70 418.95,159.07 419.30,161.56 419.65,157.42 420.00,159.00 420.36,156.75 420.72,159.98 421.08,157.01 421.44,160.01 421.80,157.50 422.19,159.50 422.57,155.87 422.96,157.14 423.34,153.59 423.73,156.77 424.11,153.43 424.50,154.00 424.88,150.77 425.26,152.40 425.64,147.10 426.02,146.31 426.40,143.70 426.76,146.74 427.12,145.50 427.48,149.81 427.84,147.89 428.20,150.00 428.55,147.15 428.90,150.09 429.25,146.35 429.60,150.15 429.95,145.85 430.30,147.86 430.65,146.42 431.00,146.40 431.39,146.06 431.77,146.36 432.16,143.90 432.54,145.54 432.93,144.50 433.31,146.33 433.70,144.60 434.05,144.30 434.40,142.34 434.75,143.09 435.10,140.04 435.45,141.41 435.80,137.81 436.15,141.26 436.50,139.00 436.86,140.45 437.22,136.76 437.58,139.09 437.94,134.88 438.30,137.00 438.68,132.43 439.05,134.64 439.43,130.17 439.80,128.00 440.23,124.63 440.67,126.78 441.10,122.50 441.55,136.11 442.00,146.40 442.45,132.03 442.90,115.00 443.33,115.52 443.77,112.21 444.20,111.50 444.57,110.48 444.95,115.29 445.32,113.99 445.70,115.00 446.06,109.27 446.42,105.47 446.78,99.22 447.14,95.34 447.50,89.40 448.00,98.81 448.50,106.00 448.95,110.59 449.40,113.00 449.85,120.87 450.30,128.00 450.66,129.98 451.02,130.58 451.38,134.13 451.74,134.20 452.10,137.00 452.48,138.56 452.86,142.54 453.24,144.10 453.62,147.76 454.00,150.00 454.36,153.56 454.72,154.37 455.08,158.09 455.44,159.80 455.80,163.00 456.16,164.09 456.52,166.88 456.88,168.18 457.24,170.77 457.60,172.00 457.98,171.39 458.36,170.01 458.74,171.03 459.12,168.21 459.50,168.50 459.87,163.93 460.23,160.49 460.60,155.00 461.05,152.51 461.50,148.30 461.97,142.72 462.43,135.40 462.90,129.00 463.27,133.89 463.63,140.83 464.00,146.40 464.37,152.90 464.73,157.08 465.10,163.00 465.48,164.02 465.86,166.13 466.24,166.34 466.62,169.11 467.00,170.30 467.36,169.89 467.72,166.76 468.08,166.10 468.44,163.67 468.80,163.00 469.17,160.83 469.53,159.97 469.90,157.41 470.27,157.19 470.63,155.30 471.00,153.80 471.38,150.32 471.76,149.55 472.14,145.66 472.52,143.78 472.90,141.00 473.25,136.56 473.60,130.15 473.95,126.60 474.30,120.70 474.73,124.35 475.17,126.15 475.60,129.90 476.03,133.94 476.47,139.93 476.90,144.60 477.27,146.67 477.65,147.72 478.02,151.05 478.40,152.00 478.77,155.01 479.15,155.08 479.52,158.68 479.90,160.20 480.30,158.92 480.70,155.81 481.10,153.80 481.60,158.83 482.10,164.80 482.53,168.42 482.97,173.20 483.40,175.90 483.75,173.87 484.10,168.65 484.45,167.13 484.80,163.00 485.18,160.13 485.56,155.41 485.94,153.14 486.32,149.28 486.70,146.40 487.06,143.42 487.42,142.32 487.78,138.51 488.14,136.35 488.50,133.60 488.93,131.24 489.37,127.66 489.80,126.20 490.18,126.75 490.55,129.13 490.93,128.60 491.30,129.90 491.77,130.73 492.23,133.80 492.70,135.40 493.13,140.15 493.57,141.56 494.00,146.40 494.38,147.19 494.76,150.91 495.14,150.84 495.52,154.86 495.90,155.60 496.30,159.51 496.70,159.90 497.10,163.00 497.50,154.92 497.90,154.27 498.30,146.40 498.67,151.74 499.03,154.50 499.40,159.30 499.75,154.78 500.10,157.07 500.45,152.23 500.80,152.00 501.17,147.26 501.53,147.95 501.90,144.60 502.33,141.84 502.77,137.64 503.20,135.40 503.65,145.81 504.10,157.50 504.48,161.77 504.85,167.53 505.23,170.22 505.60,175.90 505.96,173.02 506.32,171.72 506.68,167.26 507.04,166.21 507.40,163.00 507.77,159.08 508.15,153.90 508.52,150.89 508.90,146.40 509.27,143.03 509.65,138.03 510.02,135.70 510.40,131.70 510.77,139.78 511.13,146.62 511.50,155.60 511.88,147.06 512.25,141.27 512.62,133.06 513.00,126.20 513.35,140.25 513.70,155.60 514.08,156.77 514.45,159.76 514.83,161.05 515.20,163.90 515.56,163.08 515.92,163.93 516.28,161.67 516.64,163.80 517.00,161.20 517.38,160.93 517.75,155.98 518.12,156.44 518.50,154.70 518.93,159.91 519.37,163.01 519.80,168.50 520.23,161.89 520.67,158.02 521.10,152.00 521.57,148.33 522.03,141.87 522.50,137.20 522.88,136.43 523.25,141.94 523.62,137.40 524.00,140.90 524.43,135.37 524.87,136.51 525.30,129.90 525.73,136.99 526.17,137.80 526.60,144.60 527.07,140.16 527.53,138.71 528.00,135.40 528.38,137.63 528.75,131.81 529.12,136.46 529.50,133.60 529.93,133.20 530.37,126.23 530.80,126.20 531.16,121.84 531.52,126.16 531.88,119.45 532.24,120.33 532.60,118.80 533.03,120.28 533.47,115.28 533.90,115.20 534.27,104.46 534.65,95.32 535.02,84.28 535.40,74.40 535.75,94.76 536.10,115.20 536.47,120.59 536.83,128.21 537.20,133.60 537.58,137.15 537.95,139.39 538.33,145.03 538.70,147.40 539.17,148.47 539.63,146.24 540.10,147.40 540.55,141.05 541.00,137.00 541.50,120.99 542.00,107.80 542.35,126.94 542.70,148.30 543.08,146.36 543.45,152.91 543.83,148.38 544.20,152.00 544.58,151.34 544.95,155.33 545.33,152.64 545.70,155.60 546.07,156.60 546.43,159.89 546.80,161.20 547.17,160.66 547.53,154.57 547.90,152.00 548.37,146.44 548.83,142.12 549.30,136.30 549.73,142.84 550.17,148.54 550.60,155.60 551.03,160.31 551.47,166.39 551.90,170.30 552.27,172.26 552.63,173.07 553.00,175.90 553.38,173.74 553.76,173.17 554.14,169.42 554.52,169.69 554.90,166.70 555.26,166.17 555.62,164.04 555.98,164.66 556.34,163.32 556.70,163.00 557.06,161.51 557.42,160.63 557.78,158.46 558.14,157.75 558.50,155.60 558.88,154.88 559.26,150.98 559.64,150.86 560.02,148.13 560.40,146.40 560.77,138.34 561.15,133.09 561.52,124.64 561.90,118.90 562.27,119.93 562.63,121.66 563.00,122.50 563.47,128.54 563.93,131.40 564.40,137.20 564.77,137.90 565.15,139.60 565.52,139.32 565.90,140.90 566.26,143.18 566.62,146.32 566.98,148.54 567.34,151.83 567.70,153.80 568.08,156.14 568.46,157.06 568.84,159.90 569.22,160.74 569.60,163.00 569.96,164.00 570.32,166.84 570.68,167.20 571.04,168.95 571.40,170.30 571.78,171.76 572.16,171.79 572.54,173.63 572.92,172.95 573.30,174.90 573.70,171.63 574.10,171.61 574.50,168.50 574.93,166.75 575.37,159.21 575.80,155.60 576.17,156.41 576.55,159.63 576.92,160.28 577.30,163.00 577.66,161.12 578.02,161.52 578.38,158.70 578.74,161.42 579.10,157.50 579.48,156.75 579.85,150.20 580.23,152.18 580.60,148.30 580.98,150.07 581.35,145.34 581.73,148.65 582.10,146.40 582.47,152.24 582.83,150.75 583.20,155.60 583.58,157.49 583.95,161.43 584.33,163.81 584.70,166.70 585.17,167.39 585.63,169.59 586.10,170.30 586.53,166.79 586.97,161.82 587.40,159.30 587.83,151.91 588.27,145.10 588.70,137.20 589.07,147.33 589.43,156.38 589.80,166.70 590.23,160.80 590.67,158.06 591.10,152.00 591.46,150.64 591.82,147.47 592.18,147.55 592.54,144.29 592.90,142.80 593.33,130.66 593.77,119.99 594.20,107.80 594.57,111.27 594.93,112.37 595.30,115.20 595.75,125.12 596.20,137.20 596.63,140.68 597.07,145.42 597.50,148.30 597.88,150.43 598.25,151.01 598.62,152.82 599.00,153.80 599.36,157.38 599.72,158.48 600.08,161.61 600.44,163.56 600.80,166.70 601.18,168.25 601.56,171.66 601.94,172.79 602.32,176.63 602.70,177.70 603.17,180.34 603.63,180.83 604.10,183.20 604.52,181.74 604.95,182.27 605.38,180.14 605.80,179.50 606.16,177.08 606.52,176.73 606.88,173.87 607.24,172.32 607.60,170.30 607.98,167.80 608.36,164.38 608.74,163.58 609.12,159.27 609.50,157.50 609.85,158.01 610.20,160.00 610.60,161.16 611.00,162.84 611.40,163.05 611.80,164.80 612.18,165.14 612.56,166.58 612.94,166.57 613.32,168.03 613.70,168.50 614.17,171.02 614.63,172.68 615.10,175.80 615.48,173.95 615.85,172.67 616.23,169.84 616.60,168.50 617.02,165.23 617.45,164.75 617.88,161.05 618.30,159.30 618.66,155.97 619.02,153.51 619.38,148.47 619.74,146.79 620.10,142.70 620.46,140.77 620.82,135.87 621.18,133.82 621.54,129.58 621.90,127.10 622.33,129.74 622.77,133.39 623.20,135.40 623.58,138.76 623.95,141.00 624.33,145.73 624.70,148.20 625.06,151.24 625.42,152.42 625.78,155.71 626.14,155.95 626.50,159.30 626.88,158.84 627.26,161.66 627.64,161.27 628.02,163.11 628.40,162.90 628.83,165.58 629.27,166.66 629.70,170.30 630.07,173.03 630.43,175.85 630.80,178.60 631.20,175.16 631.60,170.66 632.00,167.97 632.40,162.90 632.78,161.08 633.16,156.71 633.54,155.12 633.92,150.72 634.30,148.20 634.65,144.47 635.00,142.85 635.35,138.82 635.70,137.20 636.08,135.74 636.45,135.63 636.83,133.89 637.20,133.50 637.57,130.13 637.93,126.81 638.30,123.40 638.67,128.57 639.03,131.88 639.40,137.20 639.77,137.85 640.15,141.53 640.52,142.35 640.90,144.60 641.26,145.69 641.62,147.57 641.98,146.36 642.34,152.54 642.70,151.90 643.08,153.43 643.46,151.11 643.84,156.19 644.22,152.94 644.60,155.60 644.96,154.60 645.32,158.93 645.68,153.90 646.04,159.31 646.40,157.40 646.83,159.19 647.27,158.52 647.70,161.10 648.13,154.57 648.57,154.76 649.00,147.30 649.37,151.58 649.73,151.39 650.10,155.60 650.53,160.38 650.97,165.48 651.40,170.30 651.80,173.99 652.20,176.22 652.60,180.40 652.98,177.62 653.35,176.26 653.73,172.05 654.10,170.30 654.46,167.76 654.82,166.53 655.18,162.70 655.54,161.54 655.90,159.30 656.27,157.28 656.65,152.85 657.02,152.13 657.40,148.20 657.83,144.93 658.27,140.10 658.70,137.20 659.15,131.63 659.60,128.00 659.97,129.47 660.33,132.60 660.70,133.50 661.12,138.07 661.55,139.71 661.98,145.02 662.40,148.20 662.76,151.27 663.12,153.46 663.48,157.83 663.84,158.86 664.20,162.90 664.63,165.06 665.07,169.69 665.50,172.10 665.88,174.05 666.25,172.93 666.62,175.61 667.00,175.80 667.38,173.83 667.75,171.19 668.12,169.60 668.50,166.60 668.87,166.02 669.23,164.31 669.60,167.72 669.97,163.36 670.33,165.58 670.70,162.90 671.09,164.59 671.47,160.90 671.86,163.16 672.24,158.19 672.63,162.50 673.01,158.81 673.40,159.30 673.78,154.48 674.16,157.63 674.54,153.06 674.92,154.36 675.30,150.10 675.66,150.61 676.02,143.91 676.38,146.37 676.74,141.61 677.10,140.90 677.48,137.49 677.86,135.93 678.24,131.16 678.62,130.13 679.00,126.20 679.36,124.98 679.72,122.06 680.08,122.45 680.44,119.19 680.80,118.80 681.25,100.73 681.70,83.90" fill="none" stroke="#4f7b98" stroke-width="1.4" stroke-linejoin="round" opacity="1"/>
<rect x="388" y="24.5" width="294" height="180" fill="none" stroke="#8a8a8a" stroke-width="1.3"/>
<line x1="385.4" y1="185.33" x2="388" y2="185.33" stroke="#555" stroke-width="0.9"/>
<text x="381.8" y="188.17" font-size="7.9" fill="#333" text-anchor="end" font-family="'Liberation Sans', sans-serif" textLength="12.44" lengthAdjust="spacingAndGlyphs" stroke="#333" stroke-width="0.15">0.8</text>
<line x1="385.4" y1="166.16" x2="388" y2="166.16" stroke="#555" stroke-width="0.9"/>
<text x="381.8" y="169" font-size="7.9" fill="#333" text-anchor="end" font-family="'Liberation Sans', sans-serif" textLength="12.44" lengthAdjust="spacingAndGlyphs" stroke="#333" stroke-width="0.15">1.6</text>
<line x1="385.4" y1="146.99" x2="388" y2="146.99" stroke="#555" stroke-width="0.9"/>
<text x="381.8" y="149.83" font-size="7.9" fill="#333" text-anchor="end" font-family="'Liberation Sans', sans-serif" textLength="12.44" lengthAdjust="spacingAndGlyphs" stroke="#333" stroke-width="0.15">2.4</text>
<line x1="385.4" y1="127.82" x2="388" y2="127.82" stroke="#555" stroke-width="0.9"/>
<text x="381.8" y="130.66" font-size="7.9" fill="#333" text-anchor="end" font-family="'Liberation Sans', sans-serif" textLength="12.44" lengthAdjust="spacingAndGlyphs" stroke="#333" stroke-width="0.15">3.2</text>
<line x1="385.4" y1="108.65" x2="388" y2="108.65" stroke="#555" stroke-width="0.9"/>
<text x="381.8" y="111.49" font-size="7.9" fill="#333" text-anchor="end" font-family="'Liberation Sans', sans-serif" textLength="12.44" lengthAdjust="spacingAndGlyphs" stroke="#333" stroke-width="0.15">4.0</text>
<line x1="385.4" y1="89.48" x2="388" y2="89.48" stroke="#555" stroke-width="0.9"/>
<text x="381.8" y="92.32" font-size="7.9" fill="#333" text-anchor="end" font-family="'Liberation Sans', sans-serif" textLength="12.44" lengthAdjust="spacingAndGlyphs" stroke="#333" stroke-width="0.15">4.8</text>
<line x1="385.4" y1="70.31" x2="388" y2="70.31" stroke="#555" stroke-width="0.9"/>
<text x="381.8" y="73.15" font-size="7.9" fill="#333" text-anchor="end" font-family="'Liberation Sans', sans-serif" textLength="12.44" lengthAdjust="spacingAndGlyphs" stroke="#333" stroke-width="0.15">5.6</text>
<line x1="385.4" y1="51.14" x2="388" y2="51.14" stroke="#555" stroke-width="0.9"/>
<text x="381.8" y="53.98" font-size="7.9" fill="#333" text-anchor="end" font-family="'Liberation Sans', sans-serif" textLength="12.44" lengthAdjust="spacingAndGlyphs" stroke="#333" stroke-width="0.15">6.4</text>
<line x1="385.4" y1="31.97" x2="388" y2="31.97" stroke="#555" stroke-width="0.9"/>
<text x="381.8" y="34.81" font-size="7.9" fill="#333" text-anchor="end" font-family="'Liberation Sans', sans-serif" textLength="12.44" lengthAdjust="spacingAndGlyphs" stroke="#333" stroke-width="0.15">7.2</text>
<line x1="388.2" y1="204.5" x2="388.2" y2="206.9" stroke="#555" stroke-width="0.9"/>
<text x="388.2" y="214.1" font-size="7.9" fill="#333" text-anchor="middle" font-family="'Liberation Sans', sans-serif" textLength="4.97" lengthAdjust="spacingAndGlyphs" stroke="#333" stroke-width="0.15">0</text>
<line x1="423.25" y1="204.5" x2="423.25" y2="206.9" stroke="#555" stroke-width="0.9"/>
<text x="423.25" y="214.1" font-size="7.9" fill="#333" text-anchor="middle" font-family="'Liberation Sans', sans-serif" textLength="14.92" lengthAdjust="spacingAndGlyphs" stroke="#333" stroke-width="0.15">100</text>
<line x1="458.3" y1="204.5" x2="458.3" y2="206.9" stroke="#555" stroke-width="0.9"/>
<text x="458.3" y="214.1" font-size="7.9" fill="#333" text-anchor="middle" font-family="'Liberation Sans', sans-serif" textLength="14.92" lengthAdjust="spacingAndGlyphs" stroke="#333" stroke-width="0.15">200</text>
<line x1="493.35" y1="204.5" x2="493.35" y2="206.9" stroke="#555" stroke-width="0.9"/>
<text x="493.35" y="214.1" font-size="7.9" fill="#333" text-anchor="middle" font-family="'Liberation Sans', sans-serif" textLength="14.92" lengthAdjust="spacingAndGlyphs" stroke="#333" stroke-width="0.15">300</text>
<line x1="528.4" y1="204.5" x2="528.4" y2="206.9" stroke="#555" stroke-width="0.9"/>
<text x="528.4" y="214.1" font-size="7.9" fill="#333" text-anchor="middle" font-family="'Liberation Sans', sans-serif" textLength="14.92" lengthAdjust="spacingAndGlyphs" stroke="#333" stroke-width="0.15">400</text>
<line x1="563.45" y1="204.5" x2="563.45" y2="206.9" stroke="#555" stroke-width="0.9"/>
<text x="563.45" y="214.1" font-size="7.9" fill="#333" text-anchor="middle" font-family="'Liberation Sans', sans-serif" textLength="14.92" lengthAdjust="spacingAndGlyphs" stroke="#333" stroke-width="0.15">500</text>
<line x1="598.5" y1="204.5" x2="598.5" y2="206.9" stroke="#555" stroke-width="0.9"/>
<text x="598.5" y="214.1" font-size="7.9" fill="#333" text-anchor="middle" font-family="'Liberation Sans', sans-serif" textLength="14.92" lengthAdjust="spacingAndGlyphs" stroke="#333" stroke-width="0.15">600</text>
<line x1="633.55" y1="204.5" x2="633.55" y2="206.9" stroke="#555" stroke-width="0.9"/>
<text x="633.55" y="214.1" font-size="7.9" fill="#333" text-anchor="middle" font-family="'Liberation Sans', sans-serif" textLength="14.92" lengthAdjust="spacingAndGlyphs" stroke="#333" stroke-width="0.15">700</text>
<line x1="668.6" y1="204.5" x2="668.6" y2="206.9" stroke="#555" stroke-width="0.9"/>
<text x="668.6" y="214.1" font-size="7.9" fill="#333" text-anchor="middle" font-family="'Liberation Sans', sans-serif" textLength="14.92" lengthAdjust="spacingAndGlyphs" stroke="#333" stroke-width="0.15">800</text>
<text x="364.4" y="114.05" font-size="13.8" fill="#222" text-anchor="middle" font-family="'Liberation Sans', sans-serif" textLength="47.9" lengthAdjust="spacingAndGlyphs" transform="rotate(-90 364.4 114.05)" >RMSF (Å)</text>
<text x="489.1" y="226.6" font-size="11.4" fill="#222" text-anchor="start" font-family="'Liberation Sans', sans-serif" textLength="92.2" lengthAdjust="spacingAndGlyphs" >Residue Index</text>
<rect x="507.6" y="7.4" width="52.2" height="7.9" fill="#fff" stroke="#ddd" stroke-width="0.6" rx="1"/>
<rect x="509" y="8.8" width="14.6" height="5.1" fill="#4f7b98"/>
<text x="523.6" y="13.6" font-size="6.6" fill="#222" text-anchor="start" font-family="'Liberation Sans', sans-serif" textLength="34.3" lengthAdjust="spacingAndGlyphs" >C-alphas</text>
<text x="348.3" y="12.4" font-size="17" fill="#000" text-anchor="start" font-family="'Liberation Serif', serif" font-weight="bold" >d</text>
<polyline points="390.40,313.00 391.00,332.00 391.45,342.72 391.90,354.90 392.27,360.46 392.63,369.52 393.00,376.10 393.37,380.70 393.73,379.67 394.10,382.50 394.57,378.01 395.03,379.61 395.50,374.00 396.20,381.40 396.70,367.55 397.20,354.90 397.57,363.74 397.93,375.50 398.30,384.60 398.68,385.73 399.05,384.96 399.43,386.82 399.80,386.70 400.18,388.70 400.55,388.80 400.93,391.94 401.30,393.10 401.73,395.76 402.15,395.31 402.57,397.86 403.00,399.40 403.43,394.91 403.85,389.32 404.27,385.97 404.70,380.30 405.12,376.00 405.55,370.62 405.97,367.20 406.40,362.30 406.80,370.60 407.20,376.15 407.60,384.60 408.03,388.54 408.45,394.36 408.88,398.09 409.30,403.70 409.73,404.02 410.15,406.22 410.57,405.58 411.00,406.90 411.37,404.30 411.73,404.78 412.10,401.19 412.47,401.41 412.83,398.00 413.20,397.30 413.55,397.37 413.90,398.93 414.25,398.37 414.60,400.68 414.95,400.87 415.30,401.60 415.72,400.26 416.14,400.34 416.56,398.80 416.98,399.22 417.40,397.30 417.75,394.59 418.10,390.64 418.45,389.40 418.80,385.77 419.15,383.53 419.50,380.30 419.88,374.45 420.25,367.47 420.62,362.09 421.00,354.90 421.38,352.97 421.75,348.52 422.12,347.86 422.50,344.30 422.93,344.09 423.35,341.05 423.77,342.10 424.20,340.00 424.63,345.68 425.07,349.34 425.50,354.90 425.90,356.42 426.30,360.00 426.70,361.20 427.12,365.94 427.55,367.74 427.97,373.30 428.40,376.10 428.82,379.31 429.25,381.99 429.68,385.72 430.10,388.80 430.53,392.09 430.95,393.46 431.38,397.37 431.80,399.40 432.18,400.78 432.56,400.03 432.94,401.52 433.32,400.51 433.70,401.60 434.07,401.89 434.45,403.73 434.82,403.12 435.20,403.70 435.62,400.54 436.05,398.99 436.47,395.09 436.90,393.10 437.25,391.30 437.60,392.27 437.95,389.97 438.30,390.56 438.65,388.99 439.00,388.80 439.43,387.59 439.85,387.40 440.27,385.19 440.70,384.60 441.12,383.74 441.55,384.72 441.97,384.09 442.40,384.60 442.83,377.17 443.27,374.70 443.70,369.70 444.12,371.16 444.55,366.62 444.97,370.30 445.40,367.60 445.77,367.87 446.13,363.30 446.50,363.40 446.88,363.70 447.25,370.60 447.62,370.81 448.00,376.10 448.43,371.97 448.85,374.03 449.27,368.29 449.70,367.60 450.12,365.42 450.55,365.68 450.97,360.40 451.40,359.10 451.75,355.88 452.10,355.94 452.45,351.87 452.80,350.60 453.17,348.06 453.53,347.34 453.90,344.30 454.27,351.79 454.63,358.08 455.00,365.50 455.38,372.30 455.75,381.07 456.12,387.02 456.50,395.20 456.90,389.82 457.30,386.10 457.70,380.06 458.10,376.10 458.53,374.69 458.95,374.67 459.38,372.94 459.80,371.90 460.23,371.76 460.67,372.85 461.10,371.90 461.60,354.09 462.10,335.80 462.47,341.19 462.83,345.61 463.20,350.60 463.70,340.76 464.20,332.60 464.57,341.07 464.93,350.32 465.30,359.10 465.67,364.37 466.03,368.01 466.40,374.00 466.82,376.87 467.25,381.40 467.68,384.05 468.10,388.80 468.57,391.55 469.03,395.00 469.50,397.30 469.87,399.30 470.23,399.27 470.60,401.71 470.97,402.06 471.33,404.68 471.70,405.80 472.05,407.31 472.40,406.18 472.75,408.55 473.10,408.60 473.45,410.03 473.80,410.00 474.22,410.28 474.64,408.80 475.06,410.26 475.48,409.08 475.90,409.00 476.25,406.78 476.60,406.51 476.95,403.18 477.30,403.28 477.65,400.32 478.00,399.40 478.43,396.45 478.85,395.38 479.27,392.15 479.70,391.00 480.07,386.36 480.45,383.70 480.82,378.83 481.20,375.00 481.57,380.46 481.93,387.52 482.30,393.10 482.73,394.38 483.15,394.16 483.57,397.18 484.00,397.30 484.38,399.40 484.75,400.42 485.12,403.18 485.50,403.70 485.93,401.70 486.35,398.89 486.77,397.95 487.20,395.20 487.55,395.07 487.90,392.35 488.25,392.66 488.60,390.37 488.95,390.94 489.30,388.80 489.72,388.00 490.14,385.01 490.56,384.57 490.98,380.96 491.40,380.30 491.75,378.00 492.10,376.86 492.45,374.93 492.80,374.30 493.15,371.24 493.50,369.70 493.88,366.44 494.25,365.16 494.62,362.33 495.00,360.20 495.38,361.87 495.75,364.80 496.12,365.65 496.50,367.60 496.93,370.26 497.35,374.84 497.77,376.55 498.20,380.30 498.55,382.07 498.90,383.88 499.25,384.74 499.60,387.76 499.95,389.13 500.30,391.00 500.72,392.54 501.14,396.10 501.56,397.03 501.98,399.63 502.40,401.60 502.77,403.00 503.14,403.48 503.51,406.06 503.89,406.31 504.26,408.44 504.63,408.05 505.00,410.00 505.35,407.27 505.70,406.19 506.05,403.61 506.40,402.09 506.75,398.96 507.10,397.30 507.52,393.59 507.94,391.45 508.36,388.24 508.78,385.48 509.20,382.50 509.57,380.90 509.93,378.17 510.30,376.69 510.67,373.49 511.03,372.20 511.40,369.70 511.76,368.55 512.11,365.97 512.47,366.16 512.83,364.16 513.19,363.55 513.54,360.72 513.90,360.20 514.33,362.04 514.75,365.93 515.17,366.40 515.60,369.70 515.95,371.08 516.30,374.00 516.65,375.66 517.00,378.80 517.35,380.18 517.70,382.50 518.12,383.65 518.54,386.63 518.96,386.77 519.38,390.14 519.80,391.00 520.22,393.40 520.65,393.82 521.08,396.40 521.50,397.30 521.92,394.15 522.35,389.07 522.78,386.33 523.20,382.50 523.58,386.92 523.95,390.16 524.33,395.97 524.70,399.40 525.12,400.51 525.54,400.27 525.96,402.83 526.38,402.13 526.80,403.70 527.17,401.08 527.53,399.53 527.90,397.10 528.27,396.08 528.63,392.09 529.00,391.00 529.38,392.39 529.75,394.19 530.12,395.34 530.50,397.30 530.90,399.99 531.30,404.99 531.70,407.45 532.10,412.20 532.47,409.57 532.83,409.59 533.20,405.81 533.57,405.88 533.93,403.15 534.30,401.60 534.65,400.06 535.00,399.90 535.35,397.67 535.70,397.72 536.05,395.46 536.40,395.20 536.76,391.77 537.12,388.64 537.48,384.76 537.84,381.79 538.20,378.20 538.58,380.62 538.95,380.44 539.33,383.10 539.70,384.60 540.12,383.00 540.54,380.35 540.96,378.51 541.38,375.96 541.80,374.00 542.22,375.89 542.65,380.22 543.08,381.02 543.50,384.60 543.85,386.41 544.20,389.28 544.55,390.70 544.90,393.80 545.25,394.93 545.60,397.30 545.95,397.52 546.30,399.95 546.65,399.89 547.00,402.53 547.35,401.62 547.70,403.70 548.07,403.94 548.43,405.57 548.80,405.00 549.17,405.85 549.53,405.43 549.90,406.90 550.33,407.47 550.75,408.76 551.17,408.44 551.60,410.00 552.07,404.83 552.53,401.96 553.00,397.30 553.38,394.91 553.75,390.51 554.12,387.79 554.50,384.60 554.92,383.61 555.35,381.21 555.78,380.03 556.20,378.20 556.62,380.25 557.05,380.69 557.48,383.24 557.90,384.60 558.27,383.77 558.65,381.82 559.02,381.68 559.40,380.30 559.77,378.20 560.15,370.54 560.52,370.27 560.90,365.50 561.33,370.78 561.77,366.38 562.20,371.90 562.67,368.20 563.13,365.00 563.60,361.20 563.98,360.53 564.35,357.38 564.73,359.10 565.10,357.00 565.53,356.73 565.97,347.88 566.40,348.50 566.77,350.64 567.15,356.91 567.52,358.90 567.90,363.40 568.27,352.08 568.63,349.99 569.00,339.00 569.50,358.53 570.00,371.90 570.38,368.50 570.75,356.51 571.12,353.82 571.50,344.30 571.92,349.70 572.35,352.26 572.78,359.40 573.20,361.20 573.62,363.05 574.05,360.41 574.48,364.84 574.90,363.40 575.33,363.17 575.75,361.17 576.17,362.78 576.60,359.10 576.98,360.92 577.36,354.74 577.74,357.73 578.12,354.57 578.50,354.90 578.88,353.76 579.25,358.30 579.62,355.44 580.00,359.10 580.43,360.70 580.87,365.49 581.30,367.60 581.65,371.71 582.00,373.82 582.35,377.36 582.70,380.30 583.08,384.08 583.45,385.76 583.83,390.91 584.20,393.10 584.63,399.00 585.07,402.75 585.50,407.90 585.95,411.30 586.40,415.40 586.80,411.13 587.20,407.65 587.60,403.20 588.00,399.40 588.42,393.93 588.85,389.70 589.28,382.92 589.70,378.20 590.08,373.43 590.45,371.49 590.83,366.27 591.20,363.40 591.58,359.17 591.95,357.60 592.33,353.55 592.70,350.60 593.13,344.52 593.57,339.82 594.00,333.70 594.40,326.98 594.80,319.90 595.22,320.76 595.65,319.55 596.08,321.01 596.50,320.90 596.93,326.59 597.37,332.12 597.80,337.90 598.23,345.27 598.67,353.65 599.10,361.20 599.53,367.38 599.97,371.47 600.40,378.20 600.80,382.21 601.20,387.12 601.60,391.00 602.05,395.86 602.50,399.40 602.88,395.35 603.25,389.99 603.62,387.81 604.00,382.50 604.38,377.19 604.75,371.42 605.12,367.41 605.50,361.20 605.90,356.29 606.30,350.72 606.70,346.40 607.08,339.66 607.45,335.75 607.83,328.64 608.20,323.00 608.67,314.08 609.13,307.86 609.60,299.30 610.10,305.56 610.60,310.20 611.00,316.48 611.40,322.21 611.80,328.30 612.17,333.81 612.53,341.45 612.90,346.40 613.30,351.18 613.70,354.32 614.10,360.98 614.50,364.40 614.93,369.45 615.37,372.97 615.80,378.00 616.20,379.21 616.60,382.53 617.00,384.11 617.40,387.00 617.80,391.34 618.20,396.88 618.60,400.60 619.03,406.41 619.47,410.46 619.90,416.40 620.37,408.44 620.83,402.29 621.30,393.80 621.66,389.29 622.02,382.93 622.38,378.16 622.74,371.88 623.10,366.70 623.46,360.26 623.82,356.86 624.18,349.57 624.54,345.76 624.90,339.60 625.30,335.49 625.70,329.13 626.10,324.68 626.50,319.20 626.87,314.47 627.23,301.85 627.60,296.60 627.97,293.35 628.33,295.09 628.70,289.90 629.10,297.49 629.50,300.39 629.90,305.70 630.27,300.15 630.63,303.75 631.00,298.90 631.37,309.78 631.73,316.83 632.10,326.00 632.46,330.96 632.82,336.05 633.18,340.10 633.54,345.96 633.90,350.90 634.37,357.25 634.83,362.61 635.30,369.00 635.73,373.82 636.17,379.94 636.60,384.80 637.07,376.11 637.53,364.92 638.00,357.70 638.43,364.23 638.87,372.64 639.30,378.00 639.65,381.25 640.00,382.20 640.35,385.07 640.70,387.00 641.10,385.61 641.50,378.84 641.90,376.91 642.30,371.20 642.70,376.77 643.10,374.82 643.50,383.54 643.90,384.80 644.33,382.27 644.77,371.22 645.20,369.00 645.65,391.94 646.10,415.30 646.46,410.50 646.82,406.71 647.18,400.78 647.54,396.86 647.90,391.60 648.28,387.05 648.67,381.63 649.05,377.33 649.43,371.48 649.82,368.01 650.20,362.20 650.58,358.30 650.97,353.79 651.35,350.41 651.73,344.65 652.12,341.91 652.50,337.30 652.86,334.00 653.22,329.09 653.58,327.36 653.94,322.79 654.30,319.20 654.67,314.85 655.05,311.40 655.42,306.08 655.80,302.30 656.20,303.74 656.60,306.70 657.00,308.10 657.40,310.20 657.87,316.89 658.33,326.24 658.80,332.80 659.20,338.55 659.60,342.61 660.00,348.79 660.40,353.10 660.80,357.94 661.20,362.03 661.60,367.34 662.00,371.20 662.43,376.37 662.87,379.28 663.30,384.80 663.70,387.72 664.10,391.69 664.50,393.84 664.90,398.30 665.30,391.93 665.70,386.72 666.10,376.78 666.50,373.50 666.86,374.64 667.22,379.10 667.58,377.40 667.94,382.81 668.30,384.80 668.66,385.74 669.02,379.89 669.38,383.47 669.74,378.97 670.10,378.00 670.46,379.37 670.82,384.56 671.18,386.12 671.54,389.38 671.90,391.60 672.30,389.30 672.70,385.95 673.10,385.34 673.50,379.37 673.90,378.00 674.28,374.56 674.67,372.87 675.05,368.03 675.43,366.86 675.82,362.69 676.20,359.90 676.60,354.43 677.00,349.92 677.40,344.63 677.80,339.60 678.16,334.43 678.52,332.06 678.88,326.63 679.24,323.88 679.60,319.20 680.00,315.55 680.40,311.28 680.80,307.67 681.20,303.40 681.57,295.59 681.93,286.80 682.30,278.60" fill="none" stroke="#4f7b98" stroke-width="1.4" stroke-linejoin="round" opacity="1"/>
<rect x="390.4" y="264.4" width="292.1" height="178.4" fill="none" stroke="#8a8a8a" stroke-width="1.3"/>
<line x1="387.8" y1="422.27" x2="390.4" y2="422.27" stroke="#555" stroke-width="0.9"/>
<text x="384.2" y="425.11" font-size="7.9" fill="#333" text-anchor="end" font-family="'Liberation Sans', sans-serif" textLength="4.97" lengthAdjust="spacingAndGlyphs" stroke="#333" stroke-width="0.15">1</text>
<line x1="387.8" y1="401.74" x2="390.4" y2="401.74" stroke="#555" stroke-width="0.9"/>
<text x="384.2" y="404.58" font-size="7.9" fill="#333" text-anchor="end" font-family="'Liberation Sans', sans-serif" textLength="4.97" lengthAdjust="spacingAndGlyphs" stroke="#333" stroke-width="0.15">2</text>
<line x1="387.8" y1="381.21" x2="390.4" y2="381.21" stroke="#555" stroke-width="0.9"/>
<text x="384.2" y="384.05" font-size="7.9" fill="#333" text-anchor="end" font-family="'Liberation Sans', sans-serif" textLength="4.97" lengthAdjust="spacingAndGlyphs" stroke="#333" stroke-width="0.15">3</text>
<line x1="387.8" y1="360.68" x2="390.4" y2="360.68" stroke="#555" stroke-width="0.9"/>
<text x="384.2" y="363.52" font-size="7.9" fill="#333" text-anchor="end" font-family="'Liberation Sans', sans-serif" textLength="4.97" lengthAdjust="spacingAndGlyphs" stroke="#333" stroke-width="0.15">4</text>
<line x1="387.8" y1="340.15" x2="390.4" y2="340.15" stroke="#555" stroke-width="0.9"/>
<text x="384.2" y="342.99" font-size="7.9" fill="#333" text-anchor="end" font-family="'Liberation Sans', sans-serif" textLength="4.97" lengthAdjust="spacingAndGlyphs" stroke="#333" stroke-width="0.15">5</text>
<line x1="387.8" y1="319.62" x2="390.4" y2="319.62" stroke="#555" stroke-width="0.9"/>
<text x="384.2" y="322.46" font-size="7.9" fill="#333" text-anchor="end" font-family="'Liberation Sans', sans-serif" textLength="4.97" lengthAdjust="spacingAndGlyphs" stroke="#333" stroke-width="0.15">6</text>
<line x1="387.8" y1="299.09" x2="390.4" y2="299.09" stroke="#555" stroke-width="0.9"/>
<text x="384.2" y="301.93" font-size="7.9" fill="#333" text-anchor="end" font-family="'Liberation Sans', sans-serif" textLength="4.97" lengthAdjust="spacingAndGlyphs" stroke="#333" stroke-width="0.15">7</text>
<line x1="387.8" y1="278.56" x2="390.4" y2="278.56" stroke="#555" stroke-width="0.9"/>
<text x="384.2" y="281.4" font-size="7.9" fill="#333" text-anchor="end" font-family="'Liberation Sans', sans-serif" textLength="4.97" lengthAdjust="spacingAndGlyphs" stroke="#333" stroke-width="0.15">8</text>
<line x1="390.1" y1="442.8" x2="390.1" y2="445.2" stroke="#555" stroke-width="0.9"/>
<text x="390.1" y="452.2" font-size="7.9" fill="#333" text-anchor="middle" font-family="'Liberation Sans', sans-serif" textLength="4.97" lengthAdjust="spacingAndGlyphs" stroke="#333" stroke-width="0.15">0</text>
<line x1="432.82" y1="442.8" x2="432.82" y2="445.2" stroke="#555" stroke-width="0.9"/>
<text x="432.82" y="452.2" font-size="7.9" fill="#333" text-anchor="middle" font-family="'Liberation Sans', sans-serif" textLength="14.92" lengthAdjust="spacingAndGlyphs" stroke="#333" stroke-width="0.15">100</text>
<line x1="475.54" y1="442.8" x2="475.54" y2="445.2" stroke="#555" stroke-width="0.9"/>
<text x="475.54" y="452.2" font-size="7.9" fill="#333" text-anchor="middle" font-family="'Liberation Sans', sans-serif" textLength="14.92" lengthAdjust="spacingAndGlyphs" stroke="#333" stroke-width="0.15">200</text>
<line x1="518.26" y1="442.8" x2="518.26" y2="445.2" stroke="#555" stroke-width="0.9"/>
<text x="518.26" y="452.2" font-size="7.9" fill="#333" text-anchor="middle" font-family="'Liberation Sans', sans-serif" textLength="14.92" lengthAdjust="spacingAndGlyphs" stroke="#333" stroke-width="0.15">300</text>
<line x1="560.98" y1="442.8" x2="560.98" y2="445.2" stroke="#555" stroke-width="0.9"/>
<text x="560.98" y="452.2" font-size="7.9" fill="#333" text-anchor="middle" font-family="'Liberation Sans', sans-serif" textLength="14.92" lengthAdjust="spacingAndGlyphs" stroke="#333" stroke-width="0.15">400</text>
<line x1="603.7" y1="442.8" x2="603.7" y2="445.2" stroke="#555" stroke-width="0.9"/>
<text x="603.7" y="452.2" font-size="7.9" fill="#333" text-anchor="middle" font-family="'Liberation Sans', sans-serif" textLength="14.92" lengthAdjust="spacingAndGlyphs" stroke="#333" stroke-width="0.15">500</text>
<line x1="646.42" y1="442.8" x2="646.42" y2="445.2" stroke="#555" stroke-width="0.9"/>
<text x="646.42" y="452.2" font-size="7.9" fill="#333" text-anchor="middle" font-family="'Liberation Sans', sans-serif" textLength="14.92" lengthAdjust="spacingAndGlyphs" stroke="#333" stroke-width="0.15">600</text>
<text x="374.1" y="352.95" font-size="13.8" fill="#222" text-anchor="middle" font-family="'Liberation Sans', sans-serif" textLength="46.5" lengthAdjust="spacingAndGlyphs" transform="rotate(-90 374.1 352.95)" >RMSF (Å)</text>
<text x="490.5" y="464.6" font-size="11.4" fill="#222" text-anchor="start" font-family="'Liberation Sans', sans-serif" textLength="91.5" lengthAdjust="spacingAndGlyphs" >Residue Index</text>
<rect x="508.7" y="247.4" width="51.3" height="7.9" fill="#fff" stroke="#ddd" stroke-width="0.6" rx="1"/>
<rect x="510.1" y="248.8" width="14.6" height="5.1" fill="#4f7b98"/>
<text x="524.7" y="253.6" font-size="6.6" fill="#222" text-anchor="start" font-family="'Liberation Sans', sans-serif" textLength="33.9" lengthAdjust="spacingAndGlyphs" >C-alphas</text>
<text x="350" y="255.2" font-size="16" fill="#000" text-anchor="start" font-family="'Liberation Serif', serif" font-weight="bold" >e</text>
<polyline points="389.60,594.00 390.10,614.40 390.55,616.32 391.00,621.20 391.45,620.68 391.90,623.50 392.35,625.57 392.80,632.50 393.17,634.17 393.53,638.73 393.90,640.40 394.27,633.37 394.63,622.27 395.00,614.40 395.40,609.54 395.80,605.81 396.20,600.90 396.57,591.43 396.93,581.13 397.30,571.50 398.00,555.70 398.45,569.88 398.90,582.80 399.27,591.99 399.63,598.71 400.00,607.70 400.47,612.33 400.93,618.57 401.40,623.50 401.80,628.46 402.20,632.41 402.60,637.80 403.00,641.60 403.38,643.02 403.75,643.56 404.12,645.96 404.50,646.10 404.86,646.66 405.22,645.56 405.58,647.38 405.94,646.22 406.30,647.20 406.77,641.67 407.23,637.58 407.70,632.50 408.15,619.66 408.60,605.40 409.05,594.36 409.50,582.80 410.20,568.10 410.90,600.90 411.35,610.36 411.80,619.00 412.25,615.73 412.70,612.20 413.15,606.61 413.60,600.90 413.97,599.00 414.33,596.35 414.70,594.10 415.07,597.48 415.43,602.48 415.80,605.40 416.27,610.93 416.73,614.04 417.20,619.00 417.57,615.86 417.93,613.28 418.30,609.90 418.67,614.50 419.03,618.75 419.40,623.50 419.85,628.53 420.30,634.80 420.77,636.45 421.23,639.36 421.70,641.60 422.10,640.94 422.50,638.88 422.90,638.55 423.30,637.00 423.67,632.63 424.03,627.61 424.40,623.50 424.77,618.86 425.13,615.12 425.50,609.90 425.90,606.78 426.30,601.74 426.70,598.60 427.13,596.33 427.57,595.82 428.00,593.00 428.47,599.00 428.93,604.06 429.40,609.90 429.83,613.29 430.27,618.35 430.70,621.20 431.10,623.63 431.50,624.99 431.90,628.96 432.30,630.30 432.70,632.28 433.10,632.08 433.50,634.13 433.90,634.80 434.26,636.57 434.62,635.89 434.98,638.31 435.34,638.22 435.70,639.30 436.08,638.31 436.47,639.27 436.85,637.91 437.23,637.97 437.62,636.54 438.00,637.00 438.36,634.17 438.72,632.89 439.08,629.73 439.44,628.22 439.80,625.70 440.20,622.57 440.60,618.84 441.00,615.98 441.40,612.20 441.77,608.58 442.13,603.77 442.50,600.90 442.97,595.41 443.43,592.42 443.90,587.30 444.33,584.76 444.77,581.43 445.20,579.40 445.55,580.67 445.90,582.62 446.25,583.55 446.60,585.10 447.05,589.92 447.50,596.40 447.93,597.55 448.37,600.80 448.80,600.90 449.27,606.57 449.73,607.57 450.20,614.40 450.63,606.75 451.07,611.29 451.50,605.40 451.97,613.08 452.43,609.31 452.90,616.70 453.33,611.78 453.77,612.51 454.20,609.90 454.58,612.01 454.96,612.87 455.34,617.94 455.72,615.48 456.10,619.00 456.46,612.09 456.82,615.48 457.18,611.56 457.54,613.16 457.90,607.70 458.27,609.58 458.65,605.13 459.02,605.97 459.40,603.10 459.82,604.77 460.25,597.89 460.68,605.35 461.10,600.90 461.50,599.90 461.90,592.38 462.30,589.60 462.67,584.90 463.03,582.54 463.40,578.30 463.77,575.96 464.13,572.89 464.50,570.40 464.87,571.43 465.23,574.78 465.60,576.00 466.10,550.62 466.60,524.00 467.20,576.00 467.65,587.47 468.10,600.90 468.55,607.02 469.00,614.40 469.40,618.62 469.80,624.16 470.20,628.00 470.57,630.43 470.93,630.82 471.30,632.50 471.67,633.06 472.03,635.92 472.40,637.00 472.80,634.11 473.20,630.49 473.60,628.00 473.97,614.02 474.33,602.09 474.70,588.40 475.07,594.34 475.43,598.97 475.80,605.40 476.17,612.06 476.53,619.60 476.90,625.70 477.30,630.60 477.70,634.15 478.10,639.30 478.53,638.43 478.97,638.85 479.40,638.20 479.75,640.38 480.10,641.33 480.45,644.58 480.80,646.10 481.17,648.65 481.53,650.04 481.90,652.90 482.25,649.31 482.60,647.34 482.95,643.97 483.30,641.60 483.67,636.91 484.03,633.30 484.40,628.00 484.75,624.10 485.10,619.27 485.45,616.71 485.80,612.20 486.23,614.98 486.67,616.20 487.10,619.00 487.57,623.79 488.03,630.65 488.50,634.80 488.93,638.99 489.37,641.44 489.80,646.10 490.27,646.11 490.73,650.63 491.20,650.60 491.60,652.26 492.00,650.76 492.40,655.11 492.80,654.00 493.20,655.09 493.60,652.29 494.00,652.70 494.40,650.60 494.76,651.93 495.12,650.35 495.48,654.76 495.84,653.10 496.20,655.10 496.56,652.68 496.92,654.58 497.28,651.88 497.64,653.79 498.00,650.60 498.38,649.62 498.75,648.26 499.12,647.87 499.50,646.10 499.90,643.42 500.30,640.08 500.70,638.24 501.10,634.80 501.57,626.89 502.03,617.23 502.50,609.90 502.87,602.04 503.23,595.77 503.60,587.30 504.00,586.88 504.40,583.95 504.80,583.91 505.20,581.70 505.55,583.75 505.90,584.72 506.25,588.07 506.60,589.60 507.03,592.94 507.47,594.68 507.90,598.60 508.26,600.46 508.62,603.21 508.98,605.35 509.34,608.44 509.70,609.90 510.06,612.80 510.42,614.70 510.78,618.15 511.14,619.97 511.50,623.50 511.90,624.78 512.30,628.37 512.70,629.45 513.10,632.50 513.50,635.00 513.90,639.53 514.30,641.99 514.70,646.10 515.06,642.65 515.42,648.04 515.78,643.03 516.14,645.91 516.50,643.80 516.86,643.42 517.22,640.43 517.58,645.32 517.94,640.35 518.30,641.60 518.66,640.44 519.02,641.06 519.38,638.32 519.74,641.84 520.10,639.30 520.46,639.73 520.82,634.06 521.18,635.33 521.54,633.84 521.90,632.50 522.37,633.69 522.83,636.43 523.30,637.00 523.66,635.81 524.02,633.60 524.38,633.60 524.74,629.20 525.10,630.30 525.46,630.52 525.82,634.50 526.18,634.18 526.54,637.96 526.90,639.30 527.30,640.90 527.70,636.31 528.10,635.94 528.50,632.14 528.90,632.50 529.30,626.49 529.70,625.58 530.10,620.51 530.50,616.70 530.86,615.63 531.22,616.52 531.58,614.39 531.94,615.50 532.30,614.40 532.66,614.21 533.02,612.69 533.38,613.78 533.74,611.75 534.10,612.20 534.50,615.16 534.90,619.36 535.30,620.96 535.70,625.35 536.10,628.00 536.50,627.26 536.90,624.70 537.30,623.50 537.67,623.81 538.03,629.93 538.40,632.50 538.77,630.63 539.13,624.21 539.50,621.20 539.86,619.55 540.22,620.46 540.58,615.96 540.94,617.80 541.30,616.70 541.65,612.22 542.00,604.42 542.35,601.21 542.70,594.10 543.15,607.27 543.60,616.70 544.05,628.35 544.50,634.80 544.87,632.94 545.23,624.71 545.60,623.50 546.00,619.35 546.40,622.94 546.80,619.00 547.17,621.31 547.53,623.28 547.90,625.70 548.27,617.69 548.63,612.49 549.00,605.40 549.37,602.76 549.73,598.87 550.10,596.40 550.55,589.07 551.00,582.80 551.35,574.13 551.70,567.00 552.15,578.63 552.60,591.80 553.05,587.08 553.50,582.80 553.95,593.53 554.40,605.40 554.85,613.98 555.30,623.50 555.70,628.32 556.10,634.76 556.50,639.30 556.87,643.01 557.23,644.59 557.60,648.30 557.96,648.84 558.32,650.22 558.68,650.48 559.04,652.23 559.40,652.90 559.80,654.34 560.20,655.05 560.60,656.35 561.00,657.40 561.40,656.72 561.80,654.19 562.20,654.64 562.60,652.90 562.96,652.23 563.32,650.11 563.68,650.34 564.04,648.54 564.40,648.30 564.76,647.79 565.12,648.38 565.48,646.07 565.84,647.38 566.20,646.10 566.56,646.24 566.92,645.17 567.28,645.88 567.64,644.22 568.00,644.90 568.40,643.88 568.80,644.27 569.20,642.67 569.60,643.56 570.00,642.70 570.40,642.58 570.80,640.06 571.20,640.92 571.60,639.30 572.07,637.16 572.53,633.95 573.00,632.50 573.38,630.65 573.75,630.70 574.12,627.92 574.50,626.90 574.90,628.70 575.30,630.97 575.70,631.83 576.10,634.80 576.46,636.17 576.82,638.41 577.18,639.70 577.54,642.96 577.90,643.80 578.26,644.91 578.62,644.67 578.98,647.50 579.34,647.20 579.70,648.30 580.08,649.01 580.46,650.29 580.84,650.96 581.22,651.98 581.60,652.90 582.00,653.78 582.40,653.42 582.80,655.31 583.20,655.13 583.60,656.20 583.97,654.64 584.33,654.47 584.70,652.62 585.07,652.72 585.43,651.01 585.80,650.60 586.18,648.88 586.57,647.86 586.95,645.95 587.33,644.99 587.72,642.67 588.10,641.60 588.46,640.58 588.82,640.59 589.18,638.51 589.54,638.59 589.90,637.00 590.30,638.89 590.70,640.36 591.10,643.08 591.50,643.80 591.86,645.86 592.22,647.43 592.58,650.19 592.94,650.65 593.30,652.90 593.66,653.55 594.02,654.86 594.38,654.54 594.74,656.51 595.10,656.20 595.46,657.48 595.82,656.46 596.18,658.28 596.54,657.72 596.90,658.50 597.26,657.12 597.62,658.51 597.98,656.87 598.34,656.71 598.70,656.20 599.06,655.36 599.42,653.87 599.78,654.12 600.14,651.79 600.50,651.70 600.90,652.49 601.30,655.48 601.70,656.36 602.10,658.50 602.46,658.32 602.82,659.85 603.18,658.94 603.54,659.51 603.90,659.60 604.37,658.60 604.83,656.28 605.30,656.00 605.67,654.48 606.05,654.29 606.42,651.70 606.80,650.60 607.20,647.98 607.60,646.28 608.00,642.88 608.40,641.60 608.80,639.82 609.20,638.40 609.60,635.14 610.00,634.80 610.36,633.44 610.72,635.89 611.08,633.53 611.44,637.30 611.80,634.80 612.16,634.76 612.52,632.32 612.88,634.00 613.24,631.57 613.60,632.50 614.00,631.14 614.40,633.11 614.80,630.80 615.20,631.40 615.57,634.76 615.93,638.76 616.30,641.60 616.66,643.65 617.02,640.52 617.38,641.95 617.74,641.30 618.10,641.60 618.50,641.25 618.90,645.48 619.30,643.99 619.70,648.30 620.10,647.13 620.50,649.08 620.90,648.30 621.30,649.50 621.73,645.13 622.17,647.00 622.60,641.60 623.07,640.00 623.53,632.62 624.00,629.10 624.45,633.64 624.90,641.60 625.35,642.79 625.80,647.20 626.23,645.10 626.67,648.43 627.10,648.30 627.57,646.75 628.03,640.68 628.50,639.30 628.97,640.21 629.43,645.16 629.90,646.10 630.26,642.99 630.62,639.29 630.98,639.29 631.34,632.60 631.70,630.30 632.07,631.37 632.43,637.87 632.80,641.60 633.17,646.11 633.53,648.21 633.90,655.10 634.30,653.15 634.70,655.24 635.10,651.72 635.50,650.60 635.90,648.32 636.30,651.79 636.70,648.12 637.10,648.30 637.46,644.56 637.82,647.65 638.18,641.94 638.54,643.98 638.90,641.60 639.30,640.98 639.70,638.23 640.10,639.05 640.50,637.00 640.93,632.77 641.37,624.70 641.80,622.30 642.20,625.21 642.60,630.87 643.00,632.50 643.37,636.84 643.73,637.25 644.10,641.60 644.47,632.27 644.83,627.12 645.20,617.80 645.60,623.85 646.00,622.72 646.40,628.00 646.77,631.01 647.13,639.23 647.50,643.80 647.90,645.80 648.30,642.93 648.70,647.46 649.10,646.10 649.48,648.10 649.85,645.46 650.23,645.55 650.60,645.00 650.98,647.03 651.36,643.42 651.74,644.90 652.12,642.81 652.50,643.80 652.86,642.65 653.22,644.50 653.58,640.60 653.94,643.40 654.30,640.40 654.67,637.49 655.05,629.17 655.42,627.83 655.80,623.50 656.20,629.67 656.60,630.75 657.00,634.80 657.43,636.06 657.87,640.73 658.30,642.70 658.65,642.98 659.00,638.50 659.35,640.79 659.70,639.30 660.06,640.20 660.42,637.37 660.78,638.93 661.14,636.97 661.50,638.20 661.86,635.98 662.22,638.22 662.58,631.58 662.94,634.21 663.30,631.40 663.75,637.41 664.20,638.20 664.67,638.04 665.13,637.34 665.60,637.00 665.98,633.03 666.35,633.86 666.73,625.99 667.10,625.70 667.50,625.98 667.90,634.04 668.30,634.80 668.67,632.88 669.03,626.58 669.40,625.70 669.77,627.35 670.13,634.61 670.50,637.00 670.97,641.56 671.43,639.47 671.90,643.80 672.33,641.02 672.77,639.43 673.20,637.00 673.58,636.73 673.96,632.99 674.34,635.46 674.72,632.51 675.10,632.50 675.53,628.92 675.97,630.01 676.40,628.00 676.85,620.38 677.30,612.20" fill="none" stroke="#4f7b98" stroke-width="1.4" stroke-linejoin="round" opacity="1"/>
<rect x="389.6" y="505" width="287.7" height="178.8" fill="none" stroke="#8a8a8a" stroke-width="1.3"/>
<line x1="387" y1="663.59" x2="389.6" y2="663.59" stroke="#555" stroke-width="0.9"/>
<text x="384.4" y="666.43" font-size="7.9" fill="#333" text-anchor="end" font-family="'Liberation Sans', sans-serif" textLength="12.44" lengthAdjust="spacingAndGlyphs" stroke="#333" stroke-width="0.15">0.6</text>
<line x1="387" y1="643.38" x2="389.6" y2="643.38" stroke="#555" stroke-width="0.9"/>
<text x="384.4" y="646.22" font-size="7.9" fill="#333" text-anchor="end" font-family="'Liberation Sans', sans-serif" textLength="12.44" lengthAdjust="spacingAndGlyphs" stroke="#333" stroke-width="0.15">1.2</text>
<line x1="387" y1="623.17" x2="389.6" y2="623.17" stroke="#555" stroke-width="0.9"/>
<text x="384.4" y="626.01" font-size="7.9" fill="#333" text-anchor="end" font-family="'Liberation Sans', sans-serif" textLength="12.44" lengthAdjust="spacingAndGlyphs" stroke="#333" stroke-width="0.15">1.8</text>
<line x1="387" y1="602.96" x2="389.6" y2="602.96" stroke="#555" stroke-width="0.9"/>
<text x="384.4" y="605.8" font-size="7.9" fill="#333" text-anchor="end" font-family="'Liberation Sans', sans-serif" textLength="12.44" lengthAdjust="spacingAndGlyphs" stroke="#333" stroke-width="0.15">2.4</text>
<line x1="387" y1="582.75" x2="389.6" y2="582.75" stroke="#555" stroke-width="0.9"/>
<text x="384.4" y="585.59" font-size="7.9" fill="#333" text-anchor="end" font-family="'Liberation Sans', sans-serif" textLength="12.44" lengthAdjust="spacingAndGlyphs" stroke="#333" stroke-width="0.15">3.0</text>
<line x1="387" y1="562.54" x2="389.6" y2="562.54" stroke="#555" stroke-width="0.9"/>
<text x="384.4" y="565.38" font-size="7.9" fill="#333" text-anchor="end" font-family="'Liberation Sans', sans-serif" textLength="12.44" lengthAdjust="spacingAndGlyphs" stroke="#333" stroke-width="0.15">3.6</text>
<line x1="387" y1="542.33" x2="389.6" y2="542.33" stroke="#555" stroke-width="0.9"/>
<text x="384.4" y="545.17" font-size="7.9" fill="#333" text-anchor="end" font-family="'Liberation Sans', sans-serif" textLength="12.44" lengthAdjust="spacingAndGlyphs" stroke="#333" stroke-width="0.15">4.2</text>
<line x1="387" y1="522.12" x2="389.6" y2="522.12" stroke="#555" stroke-width="0.9"/>
<text x="384.4" y="524.96" font-size="7.9" fill="#333" text-anchor="end" font-family="'Liberation Sans', sans-serif" textLength="12.44" lengthAdjust="spacingAndGlyphs" stroke="#333" stroke-width="0.15">4.8</text>
<line x1="389.6" y1="683.8" x2="389.6" y2="686.2" stroke="#555" stroke-width="0.9"/>
<text x="389.6" y="693.4" font-size="7.9" fill="#333" text-anchor="middle" font-family="'Liberation Sans', sans-serif" textLength="4.97" lengthAdjust="spacingAndGlyphs" stroke="#333" stroke-width="0.15">0</text>
<line x1="439.93" y1="683.8" x2="439.93" y2="686.2" stroke="#555" stroke-width="0.9"/>
<text x="439.93" y="693.4" font-size="7.9" fill="#333" text-anchor="middle" font-family="'Liberation Sans', sans-serif" textLength="14.92" lengthAdjust="spacingAndGlyphs" stroke="#333" stroke-width="0.15">100</text>
<line x1="490.26" y1="683.8" x2="490.26" y2="686.2" stroke="#555" stroke-width="0.9"/>
<text x="490.26" y="693.4" font-size="7.9" fill="#333" text-anchor="middle" font-family="'Liberation Sans', sans-serif" textLength="14.92" lengthAdjust="spacingAndGlyphs" stroke="#333" stroke-width="0.15">200</text>
<line x1="540.59" y1="683.8" x2="540.59" y2="686.2" stroke="#555" stroke-width="0.9"/>
<text x="540.59" y="693.4" font-size="7.9" fill="#333" text-anchor="middle" font-family="'Liberation Sans', sans-serif" textLength="14.92" lengthAdjust="spacingAndGlyphs" stroke="#333" stroke-width="0.15">300</text>
<line x1="590.92" y1="683.8" x2="590.92" y2="686.2" stroke="#555" stroke-width="0.9"/>
<text x="590.92" y="693.4" font-size="7.9" fill="#333" text-anchor="middle" font-family="'Liberation Sans', sans-serif" textLength="14.92" lengthAdjust="spacingAndGlyphs" stroke="#333" stroke-width="0.15">400</text>
<line x1="641.25" y1="683.8" x2="641.25" y2="686.2" stroke="#555" stroke-width="0.9"/>
<text x="641.25" y="693.4" font-size="7.9" fill="#333" text-anchor="middle" font-family="'Liberation Sans', sans-serif" textLength="14.92" lengthAdjust="spacingAndGlyphs" stroke="#333" stroke-width="0.15">500</text>
<text x="365.1" y="593.8" font-size="13.8" fill="#222" text-anchor="middle" font-family="'Liberation Sans', sans-serif" textLength="46.4" lengthAdjust="spacingAndGlyphs" transform="rotate(-90 365.1 593.8)" >RMSF (Å)</text>
<text x="488.4" y="706.3" font-size="11.4" fill="#222" text-anchor="start" font-family="'Liberation Sans', sans-serif" textLength="89.7" lengthAdjust="spacingAndGlyphs" >Residue Index</text>
<rect x="506.4" y="488.1" width="50.6" height="7.9" fill="#fff" stroke="#ddd" stroke-width="0.6" rx="1"/>
<rect x="507.8" y="489.5" width="14.3" height="5.1" fill="#4f7b98"/>
<text x="522.1" y="494.3" font-size="6.6" fill="#222" text-anchor="start" font-family="'Liberation Sans', sans-serif" textLength="33.6" lengthAdjust="spacingAndGlyphs" >C-alphas</text>
<text x="351.1" y="495.7" font-size="17" fill="#000" text-anchor="start" font-family="'Liberation Serif', serif" font-weight="bold" textLength="8.6" lengthAdjust="spacingAndGlyphs" >f</text>
</svg>
</body></html>
